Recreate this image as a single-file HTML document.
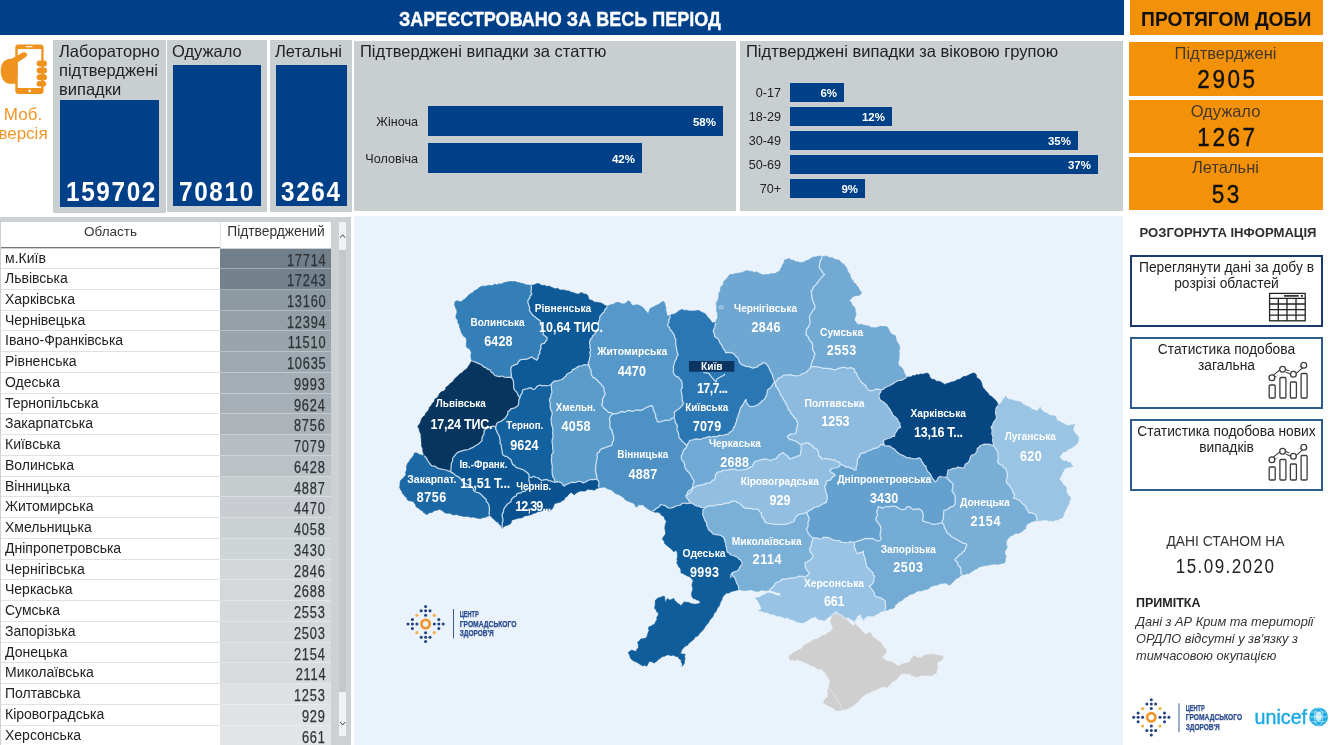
<!DOCTYPE html>
<html lang="uk">
<head>
<meta charset="utf-8">
<title>COVID-19 Україна</title>
<style>
*{margin:0;padding:0;box-sizing:border-box}
html,body{width:1332px;height:745px;overflow:hidden;background:#fff}
body{position:relative;font-family:"Liberation Sans",sans-serif;color:#222}
.abs{position:absolute}
.blue{background:#004089}
.gp{background:#c9ced1}
#hdr{left:0;top:0;width:1124px;height:34.5px;color:#fff;font-weight:bold;font-size:19.5px;line-height:35px}
#hdr span{position:absolute;left:398.5px;top:1.5px;-webkit-text-stroke:.35px #fff;white-space:nowrap;transform:scaleX(.925);transform-origin:left center}
#ohdr{left:1129.5px;top:0;width:193px;height:34.5px;background:#f39208;color:#111;font-weight:bold;font-size:19.5px;line-height:36px;text-align:center;white-space:nowrap}
#ohdr span{display:inline-block;transform:scaleX(.988);position:relative;top:1px}
.ptitle{position:absolute;font-size:16.5px;color:#222;white-space:nowrap;line-height:19px}
.bignum{position:absolute;color:#fff;font-weight:bold;font-size:28px;line-height:28px;white-space:nowrap;transform:scaleX(.87);transform-origin:left center;letter-spacing:1.85px}
.blab{position:absolute;font-size:12.6px;color:#222;text-align:right;white-space:nowrap;line-height:14px}
.bar{position:absolute;background:#004089;color:#fff;font-weight:bold;font-size:11.5px;text-align:right;padding-right:7px;white-space:nowrap}
.ocard{position:absolute;left:1128.5px;width:194px;background:#f39208;text-align:center}
.ocard .l{position:absolute;left:0;width:100%;top:1.5px;font-size:16.5px;line-height:18px;color:#44382a}
.ocard .n{position:absolute;left:0;width:100%;top:23px;font-size:26.5px;line-height:28px;color:#111;-webkit-text-stroke:.4px #111}
.ocard .n span{display:inline-block;transform:scaleX(.85);letter-spacing:3px;margin-right:-3px}
/* mobile */
#mobtxt{position:absolute;left:-5px;top:104.5px;width:56px;text-align:center;color:#f0962a;font-size:17px;line-height:19px;white-space:nowrap}
/* table */
#tbl{position:absolute;left:0;top:216.5px;width:351px;height:528.5px;background:#cdd1d4;overflow:hidden}
#tbl .th1{position:absolute;left:1px;top:5.5px;width:219px;height:25.5px;background:#fff;text-align:center;font-size:13.5px;line-height:19px;color:#333}
#tbl .th2{position:absolute;left:220px;top:5.5px;width:111px;height:25.5px;background:#fff;text-align:center;font-size:13.8px;line-height:19px;color:#333;border-left:1px solid #e4e4e4}
#tbl .thline{position:absolute;left:1px;top:30.5px;width:219px;height:1px;background:#777}
#tbl .tr{position:absolute;left:0;width:331px}
#tbl .c1{position:absolute;left:1px;top:0;width:219px;height:100%;background:#fff;border-bottom:1px solid #e2e2e2;font-size:14px;line-height:18px;padding-left:4px;color:#222;white-space:nowrap}
#tbl .c2{position:absolute;left:220px;top:0;width:111px;height:100%;border-bottom:1px solid rgba(255,255,255,.35);text-align:right;font-size:16px;line-height:24px;padding-right:6px;color:#2e3338;-webkit-text-stroke:.25px #2e3338}
#tbl .c2 span{display:inline-block;transform:scaleX(.8);transform-origin:right center;letter-spacing:1px;margin-right:-1px}
#tbl .sbtrack{position:absolute;left:339px;top:5.5px;width:7px;height:514px;background:#eff1f2}
#tbl .sbthumb{position:absolute;left:339px;top:33.5px;width:7px;height:441.5px;background:#c4c8cb}
/* map */
#map{position:absolute;left:354px;top:216px;width:769px;height:529px;background:#eaf3fb;overflow:hidden}
/* right */
#right{position:absolute;left:1124px;top:211px;width:208px;height:534px;background:#fff}
.rtitle{font-size:13.1px;font-weight:bold;color:#2e2e2e;line-height:16px;white-space:nowrap}
.rbox{left:6px;width:193px;height:72px;border:2px solid #2f5c8f;background:#fff}
.rbox .rt{position:absolute;left:0;top:3.4px;width:189px;text-align:center;font-size:13.8px;line-height:15.2px;color:#222;white-space:nowrap}

</style>
</head>
<body>
<div id="hdr" class="abs blue"><span>ЗАРЕЄСТРОВАНО ЗА ВЕСЬ ПЕРІОД</span></div>
<div id="ohdr" class="abs"><span>ПРОТЯГОМ ДОБИ</span></div>

<svg class="abs" style="left:0;top:40px" width="52" height="60" viewBox="0 40 52 60">
<g fill="#f0921e">
<rect x="15.3" y="44.4" width="28.3" height="49.5" rx="3.2"/>
<path d="M17.6 60.5 C15 58.5 9 58 5 60.5 C1.5 63 0.5 68 0.8 72 C1 78 4 83.5 10 83.8 L17.6 83.8 Z"/>
</g>
<rect x="17.7" y="49" width="23.6" height="39" fill="#fff"/>
<rect x="25.5" y="46.2" width="7" height="1" rx=".5" fill="#fff"/>
<circle cx="29.7" cy="90.9" r="1.3" fill="#fff"/>
<g fill="#f0921e">
<path d="M8 61 L22.5 52.6 C24.5 51.6 26.6 52.4 27 54 C27.4 55.6 26.5 56.8 25 57.6 L17.6 62.5 L17.6 75 L8 75 Z"/>
<rect x="36.6" y="60.6" width="10.4" height="6" rx="3"/>
<rect x="36.6" y="67.4" width="10.4" height="6" rx="3"/>
<rect x="36.6" y="74.2" width="10.4" height="6" rx="3"/>
<rect x="36.6" y="81" width="9.6" height="5.6" rx="2.8"/>
</g>
</svg>
<div id="mobtxt">Моб.<br>версія</div>

<div class="abs gp" style="left:53px;top:40px;width:112.5px;height:172.5px"></div>
<div class="abs gp" style="left:167.3px;top:40px;width:100px;height:171.6px"></div>
<div class="abs gp" style="left:270px;top:40px;width:82px;height:171.6px"></div>
<div class="ptitle" style="left:59px;top:41.5px">Лабораторно<br>підтверджені<br>випадки</div>
<div class="ptitle" style="left:172px;top:41.5px">Одужало</div>
<div class="ptitle" style="left:275px;top:41.5px">Летальні</div>
<div class="abs blue" style="left:60px;top:100px;width:99px;height:107px"></div>
<div class="abs blue" style="left:173px;top:65px;width:88px;height:141px"></div>
<div class="abs blue" style="left:276px;top:65px;width:71px;height:141px"></div>
<div class="bignum" style="left:66px;top:177.7px">159702</div>
<div class="bignum" style="left:179px;top:177.7px">70810</div>
<div class="bignum" style="left:281px;top:177.7px">3264</div>

<div class="abs gp" style="left:354px;top:41px;width:382px;height:170px"></div>
<div class="ptitle" style="left:360px;top:42px">Підтверджені випадки за статтю</div>
<div class="blab" style="left:358px;width:60px;top:115px">Жіноча</div>
<div class="blab" style="left:358px;width:60px;top:152px">Чоловіча</div>
<div class="bar" style="left:428px;top:106px;width:295px;height:30px;line-height:32px">58%</div>
<div class="bar" style="left:428px;top:143px;width:214px;height:30px;line-height:32px">42%</div>

<div class="abs gp" style="left:740px;top:41px;width:382.5px;height:169.5px"></div>
<div class="ptitle" style="left:746px;top:42px">Підтверджені випадки за віковою групою</div>
<div class="blab" style="left:741px;width:40px;top:86px">0-17</div>
<div class="blab" style="left:741px;width:40px;top:110px">18-29</div>
<div class="blab" style="left:741px;width:40px;top:134px">30-49</div>
<div class="blab" style="left:741px;width:40px;top:158px">50-69</div>
<div class="blab" style="left:741px;width:40px;top:182px">70+</div>
<div class="bar" style="left:790px;top:83px;width:54px;height:19px;line-height:21px">6%</div>
<div class="bar" style="left:790px;top:107px;width:102px;height:19px;line-height:21px">12%</div>
<div class="bar" style="left:790px;top:131px;width:288px;height:19px;line-height:21px">35%</div>
<div class="bar" style="left:790px;top:155px;width:308px;height:19px;line-height:21px">37%</div>
<div class="bar" style="left:790px;top:179px;width:75px;height:19px;line-height:21px">9%</div>

<div class="ocard" style="top:42px;height:54px"><div class="l">Підтверджені</div><div class="n"><span>2905</span></div></div>
<div class="ocard" style="top:100px;height:53px"><div class="l">Одужало</div><div class="n"><span>1267</span></div></div>
<div class="ocard" style="top:156.5px;height:53.5px"><div class="l">Летальні</div><div class="n"><span>53</span></div></div>
<div id="tbl">
<div class="th1">Область</div><div class="th2">Підтверджений</div><div class="thline"></div>
<div class="tr" style="top:32px;height:20px"><div class="c1">м.Київ</div><div class="c2" style="background:#707f8a"><span>17714</span></div></div>
<div class="tr" style="top:52px;height:21px"><div class="c1">Львівська</div><div class="c2" style="background:#73828d"><span>17243</span></div></div>
<div class="tr" style="top:73px;height:21px"><div class="c1">Харківська</div><div class="c2" style="background:#8e9aa2"><span>13160</span></div></div>
<div class="tr" style="top:94px;height:20px"><div class="c1">Чернівецька</div><div class="c2" style="background:#949fa6"><span>12394</span></div></div>
<div class="tr" style="top:114px;height:21px"><div class="c1">Івано-Франківська</div><div class="c2" style="background:#99a4ab"><span>11510</span></div></div>
<div class="tr" style="top:135px;height:21px"><div class="c1">Рівненська</div><div class="c2" style="background:#9fa9b0"><span>10635</span></div></div>
<div class="tr" style="top:156px;height:21px"><div class="c1">Одеська</div><div class="c2" style="background:#a4adb3"><span>9993</span></div></div>
<div class="tr" style="top:177px;height:20px"><div class="c1">Тернопільська</div><div class="c2" style="background:#a6afb5"><span>9624</span></div></div>
<div class="tr" style="top:197px;height:21px"><div class="c1">Закарпатська</div><div class="c2" style="background:#acb4ba"><span>8756</span></div></div>
<div class="tr" style="top:218px;height:21px"><div class="c1">Київська</div><div class="c2" style="background:#b7bec3"><span>7079</span></div></div>
<div class="tr" style="top:239px;height:21px"><div class="c1">Волинська</div><div class="c2" style="background:#bbc2c6"><span>6428</span></div></div>
<div class="tr" style="top:260px;height:20px"><div class="c1">Вінницька</div><div class="c2" style="background:#c6cbce"><span>4887</span></div></div>
<div class="tr" style="top:280px;height:21px"><div class="c1">Житомирська</div><div class="c2" style="background:#c9cdd1"><span>4470</span></div></div>
<div class="tr" style="top:301px;height:21px"><div class="c1">Хмельницька</div><div class="c2" style="background:#cbd0d3"><span>4058</span></div></div>
<div class="tr" style="top:322px;height:21px"><div class="c1">Дніпропетровська</div><div class="c2" style="background:#cfd4d6"><span>3430</span></div></div>
<div class="tr" style="top:343px;height:20px"><div class="c1">Чернігівська</div><div class="c2" style="background:#d3d7d9"><span>2846</span></div></div>
<div class="tr" style="top:363px;height:21px"><div class="c1">Черкаська</div><div class="c2" style="background:#d4d8da"><span>2688</span></div></div>
<div class="tr" style="top:384px;height:21px"><div class="c1">Сумська</div><div class="c2" style="background:#d5d9db"><span>2553</span></div></div>
<div class="tr" style="top:405px;height:21px"><div class="c1">Запорізька</div><div class="c2" style="background:#d6d9db"><span>2503</span></div></div>
<div class="tr" style="top:426px;height:20px"><div class="c1">Донецька</div><div class="c2" style="background:#d8dbdd"><span>2154</span></div></div>
<div class="tr" style="top:446px;height:21px"><div class="c1">Миколаївська</div><div class="c2" style="background:#d8dbdd"><span>2114</span></div></div>
<div class="tr" style="top:467px;height:21px"><div class="c1">Полтавська</div><div class="c2" style="background:#dee0e2"><span>1253</span></div></div>
<div class="tr" style="top:488px;height:21px"><div class="c1">Кіровоградська</div><div class="c2" style="background:#e0e2e4"><span>929</span></div></div>
<div class="tr" style="top:509px;height:20px"><div class="c1">Херсонська</div><div class="c2" style="background:#e2e4e5"><span>661</span></div></div>
<div class="sbtrack"></div><div class="sbthumb"></div><svg class="abs" style="left:339px;top:5.5px" width="7" height="514" viewBox="0 0 7 514" fill="none" stroke="#444" stroke-width="1"><path d="M1.2 15.8L3.7 12.8L6.2 15.8M1.2 500L3.7 503L6.2 500"/></svg>
</div>
<div id="map">
<svg width="769" height="529" viewBox="354 216 769 529">
<defs>
<g id="cgzlogo">
<circle r="4.2" fill="none" stroke="#f0962a" stroke-width="2.6"/>
<g fill="#22407f">
<circle cx="0" cy="-17.6" r="1.5"/><circle cx="0" cy="-13.2" r="1.5"/><circle cx="0" cy="-8.7" r="1.5"/><circle cx="-4.4" cy="-13.2" r="1.5"/><circle cx="4.4" cy="-13.2" r="1.5"/>
<circle cx="0" cy="17.6" r="1.5"/><circle cx="0" cy="13.2" r="1.5"/><circle cx="0" cy="8.7" r="1.5"/><circle cx="-4.4" cy="13.2" r="1.5"/><circle cx="4.4" cy="13.2" r="1.5"/>
<circle cy="0" cx="-17.6" r="1.5"/><circle cy="0" cx="-13.2" r="1.5"/><circle cy="0" cx="-8.7" r="1.5"/><circle cy="-4.4" cx="-13.2" r="1.5"/><circle cy="4.4" cx="-13.2" r="1.5"/>
<circle cy="0" cx="17.6" r="1.5"/><circle cy="0" cx="13.2" r="1.5"/><circle cy="0" cx="8.7" r="1.5"/><circle cy="-4.4" cx="13.2" r="1.5"/><circle cy="4.4" cx="13.2" r="1.5"/>
</g>
<g fill="#f0b04a"><circle cx="-8.7" cy="-8.7" r="1.6"/><circle cx="8.7" cy="-8.7" r="1.6"/><circle cx="-8.7" cy="8.7" r="1.6"/><circle cx="8.7" cy="8.7" r="1.6"/></g>
</g>
</defs>
<!--REGIONS-->
<g stroke-linejoin="round">
<path d="M832 614.5 834.7 612.9 837.2 612.9 839.6 613.7 840.9 615.4 842.6 616.6 844.4 617.7 845.7 619.6 847.8 620.7 849.2 622.5 851 624 852.5 625.8 854.2 625.2 855.7 624.2 857.1 626 858.9 627.4 860.6 629.3 862.1 631.4 864 632.7 865.3 634.6 867.8 633.5 870.2 632.2 871.7 634.5 872.6 637 874.8 637.9 876.6 639.4 877.9 641.2 880.1 641.8 881.4 643.5 882.8 645.3 883.6 647.6 885.5 649.1 886.3 652.3 885.1 654.1 883.1 655.2 882.2 657.2 883.2 658.7 884.7 659.6 886.6 661 888.8 661.6 891.1 662 893.6 662.9 895.9 664.4 897.2 665.7 899.1 666 901.4 664.4 904 663.6 906.3 663.3 908.4 662.4 910.4 661.2 911.3 659 912.5 657 914.4 655.5 915.9 656.5 916.9 658 919.3 657.4 921.7 658 923.1 656.1 924.9 654.7 927.1 654.8 929.2 654.8 931.3 653.9 933.4 654.5 935.8 654.5 937.8 655.5 939.8 655.5 941.7 656.1 943.4 657.2 942.5 659 941 660.4 939 661.6 937 662.8 937.1 665.3 937.8 667.6 937.1 669.4 936.4 671.3 936.2 673.3 934.1 674.2 932.1 675.5 929.7 675.7 927.1 675.3 924.3 675.5 921.7 674.9 919.8 676.3 917.4 676.6 915.2 677.3 914 675.7 911.7 675.6 910.4 674.1 908.3 673.7 906.1 674.1 904 673.3 901.2 673.9 899.1 675.7 897.8 678 895.9 679.7 894.5 681.1 892.5 681.5 891.1 682.9 890.2 684.8 888.3 686 887.1 687.7 885.2 686.8 883 686.9 880.7 687.3 878.8 688.6 876.6 689.4 874.6 690.6 872 690.9 870.2 692.6 867.7 693.1 865.6 694.2 863.7 695.8 861.8 697.1 860.3 698.8 858.9 700.6 857.6 702.4 855.7 703.3 854.1 704.7 852.1 706.4 849.8 707.5 847.6 708.7 845.8 709.4 843.7 709.1 842 710.3 839.8 710.4 837.7 710.7 835.5 710.3 833.9 708.5 831.9 707.4 829.9 706.3 827.6 705.6 825.7 703.9 823.5 703 824.3 700.6 825.9 698.2 828.3 696.6 827.7 694.5 828.2 692.3 827.5 690.2 828.6 688.1 829 685.8 829.9 683.7 830 681.4 829.4 679.3 828.3 677.3 826.8 676 826.4 674 825.1 672.5 823.4 670.9 821.9 669.2 819.8 669.1 817.8 669.2 816.2 667.7 814.3 666.6 812.2 666 809.9 665.2 808.1 663.6 805.8 662.8 803.6 662.3 801.8 661.1 799.6 660.7 797.7 659.6 795.4 660.6 792.8 659.5 790.5 660.4 789.3 658.5 788.9 656.4 790.9 654.7 792.9 653.1 794.8 651.9 796.9 651.1 798.6 649.5 800.9 649.1 802.8 647.3 804.2 645.1 806.5 644.4 808.4 642.9 810.6 641.9 812.3 640.4 814.3 639.2 816.9 639.5 818.6 637.8 820.7 637 822.5 635.5 824.9 635.2 826.7 633.8 828.8 632.1 831.5 631.4 832 629.3 833.1 627.4 832 624.9 830.7 622.5 830.4 620.4 831.4 618.5 832.1 616.6 832 614.5Z" fill="#cfcfcf" stroke="#cfcfcf" stroke-width=".6"/>
<path d="M997.9 405.5 999.4 404.5 1000.6 403.1 1002.2 401.7 1002.9 399.6 1004.7 398.3 1005.5 395.9 1006.6 397.6 1007.9 399.1 1010.3 399.5 1012.7 399.9 1014.7 400.9 1016.9 401.2 1019.1 401.5 1021.4 402.6 1023.2 404.5 1025.6 405.5 1027.9 406.6 1030.3 407.6 1032 409.6 1034.6 409.9 1036.9 411.2 1038.9 409.5 1040.1 407.2 1041.2 409.6 1043.3 411.2 1044.5 412.8 1046.8 412.9 1048.1 414.4 1050.1 415.5 1052.3 415.8 1054.6 416 1056.2 417.2 1056.4 419.4 1057.8 420.8 1060.4 421.7 1062.6 423.3 1064.8 424 1066.7 425.5 1069.1 425.7 1070.9 424.9 1073 425.1 1074.7 424.1 1073.8 426.5 1073.1 428.9 1073.8 431.6 1075.5 433.7 1077.3 435.5 1078.7 437.7 1078.2 439.6 1078.1 441.6 1077.1 443.4 1075.4 445.3 1073.1 446.6 1071.4 448 1069.3 448.7 1067.4 449.8 1066.2 451.6 1063.8 451.7 1062.2 453 1061 454.7 1059.9 456.2 1059.4 457.9 1061.1 458.8 1062.4 460.4 1064.2 461.1 1066.5 461.1 1068.5 462.4 1070.7 462.7 1071.2 464.4 1072.3 465.9 1073.1 466.1 1071.2 466.9 1069.1 466.9 1066.8 468 1064.2 468.5 1063.9 470.6 1062.6 472.3 1061.8 474.2 1061.2 476.1 1059.6 477.7 1059.4 479.8 1061.5 481.4 1062.6 483.8 1064 485.4 1065.8 486.6 1066.6 488.6 1066.2 490.6 1066.6 492.5 1067.4 494.3 1069.4 496 1070.7 498.3 1069.7 500.6 1069.1 503.1 1067.9 505.6 1066.6 508 1065.5 510.4 1064.2 512.8 1063.7 515.3 1062.6 517.6 1060 518.4 1057.8 520 1055.6 519.8 1053.5 521.1 1051.3 520.8 1049.1 521.1 1047.1 519.9 1044.9 520 1042.4 520.1 1040.1 520.8 1038.3 520.7 1036.5 520.5 1036.5 520.5 1036.9 519.2 1036.6 516.6 1035.2 514.4 1033.2 513.5 1031.1 512.7 1028.8 512.8 1028.2 511.1 1027.2 509.6 1026 508 1025.5 506 1024 504.7 1022 503.5 1020.8 501.4 1019.1 499.9 1017.2 499.6 1015.5 498.4 1013.5 498.3 1014.4 496 1014.3 493.5 1012.7 492.2 1012.6 489.9 1011.1 488.6 1010 486.1 1007.9 484.3 1006.3 482.2 1006.4 479.8 1007.1 477.4 1007.4 475.2 1007.3 473 1006.3 470.9 1005.8 468.7 1003.5 467.5 1003 465.3 1001.4 465.1 998.9 463.6 997.4 461.1 998.3 458.8 998.2 456.3 998 454 997.6 451.9 996.6 449.8 995.2 447.8 993.9 445.8 993.9 445.8 993.1 443 992.6 440.2 993 438 992.7 435.8 991.8 433.7 992.2 431.5 992 429.3 991 427.3 992.6 425.1 993.4 422.5 994.6 420.9 995.9 419.5 996.6 417.6 996.3 415.5 995.5 413.4 995.8 411.2 995.9 409.1 996.7 407.2 997.9 405.5Z" fill="#99c4e4" stroke="#99c4e4" stroke-width=".7"/>
<path d="M813 538.1 815.2 537.9 817.3 538.1 819.4 538.9 821.7 539 823.5 537.3 825.8 537.3 828.2 537.6 830.3 538.4 832.3 539.7 834.6 540.4 837.1 540.5 839.6 540.7 841.6 542.4 844.1 542.5 846.3 542.5 848.4 542.4 850.5 541.7 853.7 542.5 853.7 542.5 854.5 544.6 854.2 547 855.3 549 856 551.6 857.7 553.8 859.5 552.7 861.6 552.4 863.4 551.4 863.4 553.9 864.2 556.3 865 558.6 865.4 560.6 865.6 562.7 866.5 564.6 866.6 566.7 868.3 568.2 869.9 569.8 871.4 571.5 873 572.8 873.1 575.1 874.7 576.4 873.8 578.4 874 580.8 873 582.8 871.4 584.9 869 586 870.5 587.5 871.6 589.2 873 590.8 874.3 593.1 874.7 595.7 876.7 596.8 879 597.3 881.1 598.1 883 599.4 885.1 600.5 885.5 602.6 885.2 604.8 885.9 606.9 885.1 610.2 885.1 610.2 882.7 611 880.3 611.6 878.7 613.6 876.3 614.2 874.8 615.6 873 616.6 873 616.6 870.6 616.9 868.2 616.6 866.2 617.8 864.7 619.5 863.4 621.4 862.4 619.2 860.7 617.4 860.2 615 857.7 616.6 857 618.8 855.4 620.6 855.3 623 853.9 621.7 852.3 620.6 850.5 619.8 848.3 618.4 845.7 618.2 843.7 617.8 842.4 616.2 840.8 615 838.8 614.5 837.7 612.7 836 611.8 834.4 613.7 832 614.5 832 614.5 829.6 616.6 827.5 617.4 826.2 619.1 824.7 620.6 822.6 620 820.5 619.5 818.3 619.8 817 617.9 815.1 616.6 812.9 617.5 810.5 618.2 808.6 619.8 806.5 620.9 804.5 622.2 802.2 623 800.2 622.5 798.1 622 796.1 621.6 794.2 620.6 791.7 619.6 789.1 618.8 787.1 617.6 784.6 618.2 782.6 617.2 780.7 616.2 778.6 616 776.4 615.9 774.6 614.7 772.2 614.2 769.6 613.9 767.5 612.2 764.9 612.3 762.8 611.6 760.7 610.9 758.5 610.7 760.5 610.1 761.7 608.3 760.8 606.7 760.1 605.1 759 603.2 758.2 601.2 756.9 599.4 755.2 597.8 757.7 597.7 760.1 597 762.4 595.6 764.9 594.6 767.1 593.1 769.7 593 772.2 593.6 774.6 594.6 776.4 595.5 778.3 595.8 780.2 596.2 781 593 778.8 592.7 776.6 592.6 774.6 591.4 772 591 769.7 589.8 769.7 589.8 771.3 588.2 773.5 586.6 774.6 584.2 776.4 582.4 779.1 581.9 781 580.1 783 578.9 785.4 579.4 787.4 578.5 789.5 578 791.8 578.4 793.9 577.7 796.1 577.8 797.9 576.3 800 576.1 802.6 576.3 804.9 577.5 806.6 576 808.3 574.5 809.7 572.7 807.9 571.3 806.5 569.5 805.5 567.5 805.3 565.2 804.9 563 806.8 562 808.6 560.9 810.5 559.8 812.4 557.7 813 555 811.9 553.4 810.2 552.2 809.7 550.2 809.9 547.9 811.4 546 811.3 543.7 811.9 541.9 812.7 540 813 538.1Z" fill="#98c3e4" stroke="#98c3e4" stroke-width=".7"/>
<path d="M685.8 495.8 687.2 495.1 689.5 493.3 691.3 491.1 692.5 489.1 694 487.4 696.1 486.3 698.1 485.3 700.4 485.4 702.5 484.7 704.7 484.1 706.7 483.1 709 483 711 482.1 712.4 480.2 714.6 479.8 715.4 477.5 715.4 475 716.6 473 718.6 471.8 720.9 471.8 722.8 470.2 725.1 470.2 727.7 469.8 730.4 469.3 733.1 469.4 735.2 469 737.1 470.4 739.2 470.2 741.2 470.2 743.3 469.5 745.6 469.6 747.6 468.6 750.1 467.4 752.5 466.1 753.4 464.1 754.1 462.1 756.5 461.2 758.9 460.5 761 459.7 763.2 459.7 765.3 458.9 767.8 459.5 770.2 460.5 772 459.8 773.8 459 775.8 458.9 777.5 457 779 454.9 781 453.7 783 452.5 784.9 454.2 787.1 455.7 788.4 457.2 789.5 458.9 792 458.4 794.3 457.3 796.2 456.8 797.9 455.9 799.9 455.7 800.7 453.3 800.8 450.8 801.4 448.7 801 446.5 801.6 444.4 801.6 444.4 803.6 443.7 805.6 442.8 808.2 443.1 810.4 444.4 812.2 445.5 813.3 447.4 815.2 448.4 816.9 449.1 817.7 450.8 818.7 453.2 818.5 455.7 820.5 456.9 821.7 458.9 823.8 458.7 826 458.3 828.1 458.9 830.3 459.2 832.3 460.1 834.6 459.7 836.7 461.6 839.4 462.1 840.5 464.3 840.5 464.3 839.4 466.2 837.7 467.5 834.9 468 832.1 468.3 829.7 470.7 831.3 472.6 833.7 473.6 835.3 475.5 832.9 476.7 831.3 478.8 830 480.4 827.7 480.3 826.4 482 826.2 484 824.7 485.6 824.8 487.6 825.5 489.6 825.8 491.7 826.4 493.7 827.2 495.7 827.3 497.9 826.8 500 826.4 502.1 824.1 503.5 821.6 504.5 820 505.7 818.3 506.6 816.2 506.7 814.4 507.5 812.7 508.4 811.3 509.9 808.9 510.5 807.3 512.3 807.3 512.3 804.9 513.1 802.7 513.5 800.6 514.2 798.5 514.7 796.6 516.1 795.2 518 794.3 520 793.6 522 791 522.2 788.8 523.6 786.7 523.9 784.6 524.5 782.4 524.4 780.2 524.6 778.1 524.4 775.9 524.4 773.5 524 771.1 523.6 768.9 523.5 766.7 522.9 764.7 522 764.4 519.8 763 518 761.5 515.8 761.4 513.1 759.4 511.4 758.2 509.1 755.5 509.2 752.8 509.1 750.2 508.3 748 508.1 745.8 508.4 743.7 507.5 742.2 505.8 740.5 504.3 739.1 502.9 737 502.6 735.7 501.1 733.2 501.1 730.8 501.9 728.8 503.1 726.5 502.9 724.4 503.5 722.3 504.3 720.2 504.7 718 504.3 715.9 505 713.8 505.8 711.5 505.9 708.6 506.1 705.9 507 705.9 507 703.5 507.3 701.1 507.5 699 506.4 696.8 505.9 694.6 505.1 693 503.7 691 503 691 503 689.3 501.8 688.6 499.8 686.8 498.1 685.8 495.8Z" fill="#92bfe1" stroke="#92bfe1" stroke-width=".7"/>
<path d="M774.5 382.3 776.3 381.2 777.5 379.5 778.8 377.9 780.7 377.6 782 376.3 783.9 375.2 786 375.1 788 374.9 790.1 374.7 792.5 375.4 794.9 375.6 797.2 376 799.7 375.5 802 374 804.6 373 806.5 372.2 807.8 370.6 809.6 368.9 810.9 366.7 810.9 366.7 813.5 366.6 816.1 366.7 818.5 367.1 820.9 367.5 823 368.3 825.2 368.3 827.4 368.3 829.7 368.3 831.7 369.1 833.8 369.9 836.3 369.3 838.6 368.3 840.7 367.8 842.9 367.3 845.1 367.5 847.7 368.4 850.5 367.7 853.1 368.3 854.6 369.6 854.7 371.9 856.4 373.1 857.1 375.5 858.4 377.5 859.6 379.6 860.9 381.5 862.4 383.2 864.4 384.4 866 386.2 866.8 388.4 868.5 390.1 870.8 390.8 873.3 390.3 875.7 389.2 878.5 389.4 881.3 389.6 881.3 389.6 880.9 391.8 879.5 393.6 878.9 395.7 879.5 398.2 880.5 400.5 882.3 401.2 884 402.2 885.3 403.7 887 405 888 407 889.4 408.6 890.5 410.7 891.9 412.7 892.6 415 894.6 416.6 896.6 418.2 897.8 419.7 898.2 421.7 899.8 423 899.9 425.1 900.6 427.1 898.1 428.6 896.6 431.1 895 433.3 894.2 435.9 894.9 436.1 892.3 436.4 890.1 438 887.6 438.5 885.7 439.5 883.6 440.1 883.6 442.8 884.4 445.4 884.4 445.4 881.2 444.2 879.8 445.8 878.3 447.2 876.4 448.2 873.7 448.4 871.5 449.8 869.1 450.5 866.7 451.4 864.8 452.7 862.5 453.2 860.3 453.8 859.6 456.5 857.8 458.6 857.2 460.7 857.3 462.9 857 465.1 856 467.4 856.2 469.9 854.1 470.1 852.6 468.4 850.6 468.3 848.7 466.9 846.2 467.1 844.2 465.9 842.5 464.8 840.5 464.3 840.5 464.3 839.4 462.1 836.7 461.6 834.6 459.7 832.3 460.1 830.3 459.2 828.1 458.9 826 458.3 823.8 458.7 821.7 458.9 820.5 456.9 818.5 455.7 818.7 453.2 817.7 450.8 816.9 449.1 815.2 448.4 813.3 447.4 812.2 445.5 810.4 444.4 808.2 443.1 805.6 442.8 803.6 443.7 801.6 444.4 801.6 444.4 799.1 443.6 797.6 442.2 795.9 441.2 793.8 440.6 791.8 439.6 789.5 439.6 788.3 438 787.1 436.4 789.1 435.1 791.1 433.9 793.6 434 795.9 433.1 796.5 430.7 796.7 428.3 797.2 425.8 798.3 423.5 796.7 421.3 795.9 418.6 793.9 417.4 792.9 415.2 791.1 413.8 790.4 411.5 788.3 409.8 787.9 407.4 786.9 405.2 785.5 403.2 784.7 400.9 783.3 399.5 782.7 397.5 781.4 396.1 780.2 394 779.5 391.7 778.2 389.7 777.3 387.8 775.7 386.3 775.6 384.1 774.5 382.3 774.5 382.3 774.5 382.3Z" fill="#8cbbdf" stroke="#8cbbdf" stroke-width=".7"/>
<path d="M705.9 507 708.6 506.1 711.5 505.9 713.8 505.8 715.9 505 718 504.3 720.2 504.7 722.3 504.3 724.4 503.5 726.5 502.9 728.8 503.1 730.8 501.9 733.2 501.1 735.7 501.1 737 502.6 739.1 502.9 740.5 504.3 742.2 505.8 743.7 507.5 745.8 508.4 748 508.1 750.2 508.3 752.8 509.1 755.5 509.2 758.2 509.1 759.4 511.4 761.4 513.1 761.5 515.8 763 518 764.4 519.8 764.7 522 766.7 522.9 768.9 523.5 771.1 523.6 773.5 524 775.9 524.4 778.1 524.4 780.2 524.6 782.4 524.4 784.6 524.5 786.7 523.9 788.8 523.6 791 522.2 793.6 522 794.3 520 795.2 518 796.6 516.1 798.5 514.7 800.6 514.2 802.7 513.5 804.9 513.1 807.3 512.3 807.3 512.3 807.2 514.4 808.3 516.1 808.9 518 809 520.2 807.9 522.2 808.1 524.4 807.9 527 806.5 529.2 807.6 531.7 808.9 534.1 810.8 536.3 813 538.1 813 538.1 812.7 540 811.9 541.9 811.3 543.7 811.4 546 809.9 547.9 809.7 550.2 810.2 552.2 811.9 553.4 813 555 812.4 557.7 810.5 559.8 808.6 560.9 806.8 562 804.9 563 805.3 565.2 805.5 567.5 806.5 569.5 807.9 571.3 809.7 572.7 808.3 574.5 806.6 576 804.9 577.5 802.6 576.3 800 576.1 797.9 576.3 796.1 577.8 793.9 577.7 791.8 578.4 789.5 578 787.4 578.5 785.4 579.4 783 578.9 781 580.1 779.1 581.9 776.4 582.4 774.6 584.2 773.5 586.6 771.3 588.2 769.7 589.8 769.7 589.8 767.8 590.6 765.7 590.6 763.6 590.5 761.7 589.8 759.5 591.1 756.9 591.4 753.6 590.6 751.5 590 749.4 589.9 747.2 590.3 745.1 590.5 743 590.3 740.9 590 738.8 589.5 738.8 589.5 738.6 587.6 738.3 585.8 736.9 583.5 735.9 580.9 735.3 579 734.4 577.3 732.7 576.1 732.4 572.7 730.9 574.9 730.8 577.5 731 574.9 732.5 572.7 734.6 571.6 737 571.1 738.9 569.5 739.5 567.6 740.5 565.9 742.1 564.7 741.9 562 740.5 559.8 738.7 559 737.6 557.2 735.7 556.6 733.4 555.3 730.8 555 729.5 553.3 727.6 552.3 726.8 550.2 726.7 548 725.8 545.9 726 543.7 724.8 541.4 724.4 538.9 723.2 536.9 721.2 535.7 719.3 534.9 717.2 534.8 715.2 534.3 713.1 534.1 711.7 532.3 710 530.7 708.3 529.2 707.8 527.1 706.6 525.1 706.7 522.8 705.1 520.9 704.3 518.7 703.5 516.4 702.5 514.3 703.1 512.1 702.7 509.9 704.3 508.5 705.9 507Z" fill="#7ab0d7" stroke="#7ab0d7" stroke-width=".7"/>
<path d="M947.5 478.3 947 476.2 947.3 474.1 947.8 472 948 469.9 950 470 951.7 468.9 953.6 468.3 955.8 468.3 957.9 467.1 960.1 467.5 961.9 467.8 963.6 468.3 964.7 466.4 965.2 464.3 967.5 463.1 969.2 461.1 970 458.7 970.8 456.3 972.1 454.8 974.5 454.7 975.7 453 977.1 450.8 977.3 448.2 979.1 447.4 980.2 445.6 982.1 445 984.2 444.2 986.4 444.4 988.6 444.2 991.3 444.8 993.9 445.8 993.9 445.8 995.2 447.8 996.6 449.8 997.6 451.9 998 454 998.2 456.3 998.3 458.8 997.4 461.1 998.9 463.6 1001.4 465.1 1003 465.3 1003.5 467.5 1005.8 468.7 1006.3 470.9 1007.3 473 1007.4 475.2 1007.1 477.4 1006.4 479.8 1006.3 482.2 1007.9 484.3 1010 486.1 1011.1 488.6 1012.6 489.9 1012.7 492.2 1014.3 493.5 1014.4 496 1013.5 498.3 1015.5 498.4 1017.2 499.6 1019.1 499.9 1020.8 501.4 1022 503.5 1024 504.7 1025.5 506 1026 508 1027.2 509.6 1028.2 511.1 1028.8 512.8 1031.1 512.7 1033.2 513.5 1035.2 514.4 1036.6 516.6 1036.9 519.2 1036.5 520.5 1036.5 520.5 1034.2 521 1032 521.6 1029.6 522.9 1027.2 524.1 1025.9 526.3 1025.6 528.9 1023.7 529.5 1022.5 531.3 1020.8 532.1 1018.8 533.2 1016.5 533.2 1014.3 533.7 1013.1 535.3 1011 535.6 1009.5 536.9 1008 538.2 1007.1 540 1006.3 541.8 1006.2 544.3 1007.1 546.6 1006.6 548.8 1005.1 550.7 1004.7 553 1005.2 554.8 1006.3 556.3 1005.4 558.3 1005.3 560.6 1004.7 562.7 1002.7 563.3 1000.7 563.7 998.7 564.3 996.6 564.3 993.9 564 991.2 564.6 988.6 565.1 986.6 565.4 984.5 565.4 982.6 566.3 980.5 565.9 981.1 566.2 978.9 567.2 977.1 568.8 974.7 569.4 973.1 570.9 971 571.7 969.8 573.5 967.3 573.6 965 574.3 961.8 574.8 961.8 574.8 960.7 572.2 961 569.4 960.4 567.5 959 566 957.7 564.6 958 564.3 957.4 562.4 955.9 561 954.7 559.5 956.4 557.9 958.1 556.5 959.6 554.7 961.5 554 962.4 552 964.4 551.4 965 549.2 965.9 547.1 966.8 545 965.3 543.3 962.7 543.4 961.2 541.8 958.9 541 957 539.4 954.7 538.6 953 537.5 951.3 536.5 950 534.8 948.3 533.7 946.8 532.4 946.2 530.5 945.1 528.9 944.2 526.9 943.9 524.7 942.4 523 942.4 523 942.2 520.8 943.6 518.8 943.2 516.6 943.6 514.5 943.7 512.3 944 510.2 946.6 510.1 948.8 508.6 950.3 506.9 952.7 506.6 954.4 505.3 955.2 502.7 955.2 500 955.2 497.3 954.7 494.8 953.3 492.9 952 490.8 952.6 488.4 953.1 486.1 952.8 483.6 951 481.9 949 480.3 947.5 478.3Z" fill="#79afd6" stroke="#79afd6" stroke-width=".7"/>
<path d="M853.7 542.5 854 542.3 856.2 541.7 858.3 540.9 860.5 540.3 862.8 539.4 865.2 538.6 867.7 538.3 869.9 538.7 872.2 538.4 874.2 539.5 876.8 540.8 879.8 540.7 881.4 538.3 880.1 536.1 880.2 533.5 880.7 531.1 881 528.6 880.3 526.1 879 523.8 877.7 522.4 876.5 520.8 875.8 519 876.6 517 877.5 515 876.6 511.7 877.9 509.3 878.2 506.5 880.4 507.1 882.2 508.5 884.4 507 887 506.5 889.2 506.8 891.3 506.1 893.5 506.1 896.2 506.5 898.3 508.1 900.6 509.3 903.1 509.7 905.4 509.1 906.8 506.9 909.2 506.5 911.2 508.3 913.6 509.7 916.4 509.2 919.2 508.9 921 510.1 922.5 511.7 923 514.1 923.3 516.6 922.7 518.8 922.5 521 924.9 521.7 927.3 522.6 929.8 523 932.1 524.2 934.8 524.4 937.4 523.9 940 523 942.4 523 942.4 523 943.9 524.7 944.2 526.9 945.1 528.9 946.2 530.5 946.8 532.4 948.3 533.7 950 534.8 951.3 536.5 953 537.5 954.7 538.6 957 539.4 958.9 541 961.2 541.8 962.7 543.4 965.3 543.3 966.8 545 965.9 547.1 965 549.2 964.4 551.4 962.4 552 961.5 554 959.6 554.7 958.1 556.5 956.4 557.9 954.7 559.5 955.9 561 957.4 562.4 958 564.3 957.7 564.6 959 566 960.4 567.5 961 569.4 960.7 572.2 961.8 574.8 961.8 574.8 960.3 576.1 958.8 577.5 956.9 578.3 954.9 579.5 953.7 581.5 951.8 582.8 950.5 584.7 948.2 584.7 946.4 583.1 944.1 583.1 940.7 583.6 938.7 584.3 936.8 585.2 934.6 585.3 932.6 586 930.6 586.5 929.4 588.2 927.8 589.2 925.7 589.4 923.7 590 921.8 590.8 919.7 590.8 917.5 591.1 915.6 592.2 913.9 593.7 911.7 594.1 909.4 594.8 907.7 596.6 905.3 597.2 903.6 598.9 901.6 600.7 898.9 601.6 897.2 603.7 895.1 604.8 894.5 607.4 892.4 608.6 889.9 608.7 887.6 610.1 885.1 610.2 885.1 610.2 885.9 606.9 885.2 604.8 885.5 602.6 885.1 600.5 883 599.4 881.1 598.1 879 597.3 876.7 596.8 874.7 595.7 874.3 593.1 873 590.8 871.6 589.2 870.5 587.5 869 586 871.4 584.9 873 582.8 874 580.8 873.8 578.4 874.7 576.4 873.1 575.1 873 572.8 871.4 571.5 869.9 569.8 868.3 568.2 866.6 566.7 866.5 564.6 865.6 562.7 865.4 560.6 865 558.6 864.2 556.3 863.4 553.9 863.4 551.4 861.6 552.4 859.5 552.7 857.7 553.8 856 551.6 855.3 549 854.2 547 854.5 544.6 853.7 542.5Z" fill="#73abd4" stroke="#73abd4" stroke-width=".7"/>
<path d="M822.2 256.9 824.2 256.2 826.3 256.1 828.3 257.1 830.4 257.8 832.7 257.7 834.6 259.2 836.8 259.8 839.1 260.1 840.5 261.7 842 263.3 844 264.2 845.2 266 846.5 267.7 847.2 269.8 848.3 272.2 850 274.3 850.4 277 851.3 279 853.1 280.5 853.6 282.7 855.7 283.8 856.8 285.9 858.5 287.5 859.2 289.3 860.1 291.1 861.7 292.3 860.6 294.4 858.5 295.5 856.2 295.7 854 296.1 852 297.2 850.8 299.2 848.8 300.4 850.9 302 852 304.4 852.9 306.1 854.6 307.3 855.2 309.2 855.3 311.4 855.9 313.5 856 315.7 854.6 317.9 854.4 320.5 855.9 321.9 856.9 323.7 858.8 324.8 861 324.1 862.9 324.9 864.9 325.3 866.9 326 869.1 325.9 870.9 327.4 873 327.7 875.1 327.7 877.1 327.6 879.1 326.8 881 326.1 883.1 326.6 885.3 326.4 887.4 326.9 888.4 329.1 889.6 331.2 890.7 333.4 893 334.8 895.5 335.8 895.8 338.1 896.4 340.4 897.4 342.5 898.8 344.4 899.6 346.6 899.8 349 898.9 351.6 899.4 354.3 899 357 899.1 359.2 898.4 361.3 898.2 363.5 899 365.5 900.6 367 902.2 368.3 903.6 370.3 904.1 372.7 905.5 374.7 906.3 378 906.3 378 903.7 378.9 901.4 380.4 898.9 380.4 896.6 381.2 895 382.2 893.4 383.4 891.8 384.4 889.4 385.7 886.9 386.8 884.9 387.5 883.5 389.3 881.3 389.6 881.3 389.6 878.5 389.4 875.7 389.2 873.3 390.3 870.8 390.8 868.5 390.1 866.8 388.4 866 386.2 864.4 384.4 862.4 383.2 860.9 381.5 859.6 379.6 858.4 377.5 857.1 375.5 856.4 373.1 854.7 371.9 854.6 369.6 853.1 368.3 850.5 367.7 847.7 368.4 845.1 367.5 842.9 367.3 840.7 367.8 838.6 368.3 836.3 369.3 833.8 369.9 831.7 369.1 829.7 368.3 827.4 368.3 825.2 368.3 823 368.3 820.9 367.5 818.5 367.1 816.1 366.7 813.5 366.6 810.9 366.7 810.9 366.7 811.2 364.5 812 362.3 812.6 360.2 813.8 358.2 814.2 355.9 815 353.7 813.4 351.1 812.5 349 812.6 346.9 812.6 344.7 812 342.7 810.6 341.3 809.4 339.8 808.6 338 807.8 336.2 806.1 335 806.2 332.8 806.3 330.7 806.9 328.6 808.6 326.8 809.4 324.4 810.2 322.1 809.6 319.7 809.4 317.3 810.3 314.7 811.8 312.5 812.5 310.6 814.2 309.4 815 307.6 814.8 305 813.4 302.8 812.9 300.7 812 298.6 811.8 296.4 811.8 293.9 811 291.5 812.8 289.4 813.4 286.7 815.4 285.5 816.6 283.5 818.1 282 819.1 280.1 820.6 278.6 822.5 276.4 824.7 274.6 823 273.4 822.2 271.4 820.4 269.5 819 267.4 819.6 265 819.8 262.5 820.4 260.6 821.5 258.8 822.2 256.9Z" fill="#72aad4" stroke="#72aad4" stroke-width=".7"/>
<path d="M687 445.8 687.7 443.9 688.9 442.3 689.7 440.4 691.9 440.2 694 439.5 696.1 438.8 698.5 439.1 700.9 439.6 702.8 438.2 705.2 437.9 707.4 437.2 709.5 436.7 711.7 437.3 713.8 436.4 715.9 436.9 717.9 436.1 719.8 435.3 721.9 435.5 724.1 435.2 726.2 434.5 728.3 433.9 729.7 432.4 731.5 431.3 733.1 429.9 733.5 427.6 735.1 425.8 735.5 423.5 736.6 421.5 736.6 419 738 417 738.1 414.8 739.3 412.8 739.6 410.6 740.5 408.1 742 405.8 743.5 403.9 744.4 401.7 746 399.3 746.2 401.9 747.6 404.2 748.9 405.8 750.8 406.6 753.3 406.4 755.7 405.8 757.4 404.9 759 403.7 760.5 402.5 762.3 400.7 764.5 399.3 765.7 396.9 766.9 394.5 767.1 392.1 767.7 389.7 770 388.3 771.8 386.4 772.8 384.1 774.5 382.3 774.5 382.3 775.6 384.1 775.7 386.3 777.3 387.8 778.2 389.7 779.5 391.7 780.2 394 781.4 396.1 782.7 397.5 783.3 399.5 784.7 400.9 785.5 403.2 786.9 405.2 787.9 407.4 788.3 409.8 790.4 411.5 791.1 413.8 792.9 415.2 793.9 417.4 795.9 418.6 796.7 421.3 798.3 423.5 797.2 425.8 796.7 428.3 796.5 430.7 795.9 433.1 793.6 434 791.1 433.9 789.1 435.1 787.1 436.4 788.3 438 789.5 439.6 791.8 439.6 793.8 440.6 795.9 441.2 797.6 442.2 799.1 443.6 801.6 444.4 801.6 444.4 801 446.5 801.4 448.7 800.8 450.8 800.7 453.3 799.9 455.7 797.9 455.9 796.2 456.8 794.3 457.3 792 458.4 789.5 458.9 788.4 457.2 787.1 455.7 784.9 454.2 783 452.5 781 453.7 779 454.9 777.5 457 775.8 458.9 773.8 459 772 459.8 770.2 460.5 767.8 459.5 765.3 458.9 763.2 459.7 761 459.7 758.9 460.5 756.5 461.2 754.1 462.1 753.4 464.1 752.5 466.1 750.1 467.4 747.6 468.6 745.6 469.6 743.3 469.5 741.2 470.2 739.2 470.2 737.1 470.4 735.2 469 733.1 469.4 730.4 469.3 727.7 469.8 725.1 470.2 722.8 470.2 720.9 471.8 718.6 471.8 716.6 473 715.4 475 715.4 477.5 714.6 479.8 712.4 480.2 711 482.1 709 483 706.7 483.1 704.7 484.1 702.5 484.7 700.4 485.4 698.1 485.3 696.1 486.3 694 487.4 692.5 489.1 691.3 491.1 689.5 493.3 687.2 495.1 685.8 495.8 685.8 495.8 687.1 494 687.7 491.8 689.4 490.2 691.5 489 692.6 486.9 693 484.4 694.2 482.1 693.4 479.8 692 477.8 691 475.7 690 473.8 688.6 472.2 687 470.8 685.7 468.8 684.8 466.8 684.6 464.4 683.8 462.1 682.1 460.3 681.3 458 681.4 455.7 682.7 453.7 683 451.5 684 449.4 686.1 448 687 445.8Z" fill="#70a9d3" stroke="#70a9d3" stroke-width=".7"/>
<path d="M715.7 322.8 716.2 320.2 717.6 317.8 717.6 315.1 717.5 312.9 716.5 310.8 716.8 308.6 716.7 306.1 716 303.8 717.2 301.4 718.4 299 718.8 296.9 718.7 294.6 719.2 292.5 720.5 290.6 720.3 288 721.6 286.1 723.2 284.5 723.5 282.1 724.8 280.3 726.8 278.7 728.2 276.6 729.7 274.6 732.2 274.6 734.5 273.8 736.9 273.5 739.3 273 741.9 272.8 744.2 271.6 746.6 270.6 749.4 271.2 752.2 271.4 754 272.6 756.5 271.9 758.4 272.8 760.3 273.8 762.3 274.8 764.5 274.7 766.7 274.6 768.9 274.5 770.9 273.7 773.1 273.8 775.5 273.5 777.4 272.1 779.6 271.4 780.6 268.9 782 266.6 782.7 264.4 784.1 262.5 784.4 260.1 786.8 259.4 789.2 258.5 791.1 260.1 793.7 260.2 795.7 261.7 797.9 261.8 799.9 262.6 802.1 262.5 804.3 261.9 806.3 260.6 808.6 260.1 810 258.7 811.8 258 813.4 256.9 815.9 257 818.2 256.1 820.3 256.2 822.2 256.9 822.2 256.9 821.5 258.8 820.4 260.6 819.8 262.5 819.6 265 819 267.4 820.4 269.5 822.2 271.4 823 273.4 824.7 274.6 822.5 276.4 820.6 278.6 819.1 280.1 818.1 282 816.6 283.5 815.4 285.5 813.4 286.7 812.8 289.4 811 291.5 811.8 293.9 811.8 296.4 812 298.6 812.9 300.7 813.4 302.8 814.8 305 815 307.6 814.2 309.4 812.5 310.6 811.8 312.5 810.3 314.7 809.4 317.3 809.6 319.7 810.2 322.1 809.4 324.4 808.6 326.8 806.9 328.6 806.3 330.7 806.2 332.8 806.1 335 807.8 336.2 808.6 338 809.4 339.8 810.6 341.3 812 342.7 812.6 344.7 812.6 346.9 812.5 349 813.4 351.1 815 353.7 814.2 355.9 813.8 358.2 812.6 360.2 812 362.3 811.2 364.5 810.9 366.7 810.9 366.7 809.6 368.9 807.8 370.6 806.5 372.2 804.6 373 802 374 799.7 375.5 797.2 376 794.9 375.6 792.5 375.4 790.1 374.7 788 374.9 786 375.1 783.9 375.2 782 376.3 780.7 377.6 778.8 377.9 777.5 379.5 776.3 381.2 774.5 382.3 774.5 382.3 774 379.7 772.9 377.3 772.4 374.7 771.1 372.6 770.1 370.4 769.1 368.2 768.3 366.4 767 365 765.9 363.4 762.7 362.6 761.5 364.4 759.1 364.8 757.9 366.6 755.4 367.3 753 368.2 750.9 367.4 748.9 366.4 746.6 366.6 744.4 365.7 742.1 364.8 740.2 363.4 739.2 361.6 738.6 359.6 737.7 357.7 735.5 355.9 733.7 353.7 731.1 352.7 728.4 352.4 725.7 352.9 725.1 350.8 723.6 349.1 722.5 347.3 721.7 345 720 343.1 719.2 340.8 718.1 338.7 716 337.6 714.4 336 714.6 333.8 713.3 331.8 713.6 329.6 714.9 327.5 715.2 325.1 715.7 322.8Z" fill="#6da7d2" stroke="#6da7d2" stroke-width=".7"/>
<path d="M884.4 445.4 886.5 446.2 888.7 445.9 890.8 446.6 892.3 448.1 894.3 449 895.7 450.6 897.2 452.1 898.8 453.4 900.5 454.6 902.8 455.4 904.9 456.5 906.9 457.8 909.1 457.5 911.2 458.3 913.4 458.6 916.3 458.9 919 457.8 920.9 459 921.5 461.2 923 462.7 923.7 464.8 925.8 466.1 926.3 468.3 927 470.2 927.9 471.8 929.5 473.1 930.8 474.9 931.6 476.9 932.7 478.8 934.1 480.3 935.1 482 937 480.4 938 478 939.9 476.4 942.4 477 945.1 477.1 947.5 478.3 947.5 478.3 949 480.3 951 481.9 952.8 483.6 953.1 486.1 952.6 488.4 952 490.8 953.3 492.9 954.7 494.8 955.2 497.3 955.2 500 955.2 502.7 954.4 505.3 952.7 506.6 950.3 506.9 948.8 508.6 946.6 510.1 944 510.2 943.7 512.3 943.6 514.5 943.2 516.6 943.6 518.8 942.2 520.8 942.4 523 942.4 523 940 523 937.4 523.9 934.8 524.4 932.1 524.2 929.8 523 927.3 522.6 924.9 521.7 922.5 521 922.7 518.8 923.3 516.6 923 514.1 922.5 511.7 921 510.1 919.2 508.9 916.4 509.2 913.6 509.7 911.2 508.3 909.2 506.5 906.8 506.9 905.4 509.1 903.1 509.7 900.6 509.3 898.3 508.1 896.2 506.5 893.5 506.1 891.3 506.1 889.2 506.8 887 506.5 884.4 507 882.2 508.5 880.4 507.1 878.2 506.5 877.9 509.3 876.6 511.7 877.5 515 876.6 517 875.8 519 876.5 520.8 877.7 522.4 879 523.8 880.3 526.1 881 528.6 880.7 531.1 880.2 533.5 880.1 536.1 881.4 538.3 879.8 540.7 876.8 540.8 874.2 539.5 872.2 538.4 869.9 538.7 867.7 538.3 865.2 538.6 862.8 539.4 860.5 540.3 858.3 540.9 856.2 541.7 854 542.3 853.7 542.5 853.7 542.5 850.5 541.7 848.4 542.4 846.3 542.5 844.1 542.5 841.6 542.4 839.6 540.7 837.1 540.5 834.6 540.4 832.3 539.7 830.3 538.4 828.2 537.6 825.8 537.3 823.5 537.3 821.7 539 819.4 538.9 817.3 538.1 815.2 537.9 813 538.1 813 538.1 810.8 536.3 808.9 534.1 807.6 531.7 806.5 529.2 807.9 527 808.1 524.4 807.9 522.2 809 520.2 808.9 518 808.3 516.1 807.2 514.4 807.3 512.3 807.3 512.3 808.9 510.5 811.3 509.9 812.7 508.4 814.4 507.5 816.2 506.7 818.3 506.6 820 505.7 821.6 504.5 824.1 503.5 826.4 502.1 826.8 500 827.3 497.9 827.2 495.7 826.4 493.7 825.8 491.7 825.5 489.6 824.8 487.6 824.7 485.6 826.2 484 826.4 482 827.7 480.3 830 480.4 831.3 478.8 832.9 476.7 835.3 475.5 833.7 473.6 831.3 472.6 829.7 470.7 832.1 468.3 834.9 468 837.7 467.5 839.4 466.2 840.5 464.3 840.5 464.3 842.5 464.8 844.2 465.9 846.2 467.1 848.7 466.9 850.6 468.3 852.6 468.4 854.1 470.1 856.2 469.9 856 467.4 857 465.1 857.3 462.9 857.2 460.7 857.8 458.6 859.6 456.5 860.3 453.8 862.5 453.2 864.8 452.7 866.7 451.4 869.1 450.5 871.5 449.8 873.7 448.4 876.4 448.2 878.3 447.2 879.8 445.8 881.2 444.2 884.4 445.4Z" fill="#64a1ce" stroke="#64a1ce" stroke-width=".7"/>
<path d="M551.3 384.2 552.7 382.3 554.6 380.9 557.3 381.1 559.8 380 562.4 379.5 563.8 377.7 565.7 376.3 566.7 374.2 568.8 373 571.2 372.2 572.5 369.7 574.9 368.8 576.9 367.4 579.1 366.1 581.7 365.8 584 364.7 586.6 365.2 588.9 364.3 588.9 364.3 589.1 366.7 590.2 368.7 591.2 370.8 591 373.1 591.7 375.3 592.8 377.3 594.7 377.9 596.1 379.3 597.6 380.5 599 382.3 600.8 383.7 601.8 385.4 603.4 386.7 604.1 388.6 604 390.8 605 392.8 604.9 395 603.4 397.3 602.5 399.8 602.7 402.4 601.6 404.7 602.7 406.5 603.9 408.3 605.7 409.5 607.3 411.1 608.9 412.7 611 412.7 612.9 413.7 612.9 413.7 610.5 416.1 609.6 418.1 609.4 420.1 610.2 422.2 609.7 424.2 610 426.3 610.2 428.4 612.1 430 612.1 432.2 612.9 434.1 613.6 436.1 613.5 438.2 613.7 440.3 612.4 442.5 612.1 445.1 610 445.9 607.8 446.6 605.7 447.5 603.7 448.1 601.7 448.7 600 449.9 599.5 451.9 597.5 452.9 596.8 454.7 597.3 457.2 596.8 459.6 596.2 462 596 464.4 595.5 466.4 595.9 468.4 595.3 470.5 596 472.5 596.2 474.7 596.9 476.9 596.8 479.2 596.8 479.2 593.6 479.7 590.7 479.5 588 480.5 585.7 482 583.1 482.9 580.9 481.5 578.3 481.3 576.2 482.1 574.1 482.6 571.9 482.1 570.2 482.9 568.6 483.7 566.3 484.4 564.6 486.1 562.8 485 561.7 483 559.8 482.1 557.5 481.6 555.4 482.5 555.4 482.5 554.5 480.7 554.4 478.6 553 477 552.3 474.5 552.2 472 552.1 469.5 552.3 467 552 464.6 551.6 462.2 551.3 459.8 551.8 457.4 551.5 454.9 553.2 452.7 553 450.2 552.6 447.8 552.7 445.3 552.2 442.9 552.1 440.5 552.7 438.1 553.1 435.7 552.6 433.2 553 430.8 552.7 428.4 552.1 426 551.4 423.7 551.3 421.2 551 419 551.5 416.8 552.1 414.7 552.2 412.4 551 410.4 550.5 408.3 550 405.9 550.5 403.4 549.5 401.1 549.7 398.6 551.1 396.7 551 394.2 552.1 392.2 551.5 389.6 551.4 386.9 551.3 384.2Z" fill="#5c9ccb" stroke="#5c9ccb" stroke-width=".7"/>
<path d="M607.4 306.2 610.5 304.8 613.7 304 615.2 302.9 616.9 302.4 619.2 302.5 621.2 303.5 623.4 304 625.4 303.5 626.7 302 628.2 300.8 630.3 301.9 631.1 304.3 633 305.6 635.4 304.9 637.9 304.8 640.3 306 642.7 307.2 644.3 309.2 645.9 311.3 648.3 313.7 649.1 311.3 649.9 308.9 651.7 307.6 653.8 306.9 655.6 305.6 658.2 304.7 660.4 303.2 661.7 301.9 663.6 301.6 664.9 303.6 665.2 305.9 666 308.1 665.7 310.3 666.5 312.2 666.6 314.2 667.7 316.1 670.1 315.7 670.1 315.7 670 318 668.7 319.9 668.9 322.2 667.7 324.2 668 326.3 669.7 327.7 670.1 329.8 671.7 331.2 672.8 333 674.1 334.6 674.5 337.1 675.8 339.3 675.7 341.9 675.7 344.1 676.1 346.2 676.5 348.3 676.7 350.5 677.4 352.6 678.1 354.7 676.8 356.8 676.3 359.2 674.9 361.2 674.3 363.3 673.7 365.4 673.3 367.6 673.6 369.8 673.2 372 674.1 374.1 675.6 376.1 678.1 376.9 679.7 378.9 681.5 381 682.1 383.7 682 385.7 682.4 387.8 680.8 389.7 681.3 391.8 681.8 393.9 682 396 682.1 398.2 682.2 400.4 683.3 402.5 683 404.7 681.4 406.4 679.9 408.1 678.1 409.5 675.9 410.8 674.1 412.7 674.6 415.4 673.8 418 673.8 418 671.6 418.4 670.1 420.1 667.9 420.4 665.7 420 663.6 420.9 661.5 421.2 659.4 422.1 657.2 421.7 657 419.5 655.6 417.7 655.8 415.4 654.9 413.3 654 411.3 653.2 409.4 653 407.2 651.6 405.6 649.1 406.4 646.8 407.2 644.8 408.5 642.7 409.7 640.1 410.7 637.3 409.8 634.7 410.5 632.7 411.3 630.7 410.9 628.6 410.4 626.6 411.3 624.6 412.3 622.3 411.4 620.2 412.1 617.9 413.1 615.5 413.8 612.9 413.7 612.9 413.7 611 412.7 608.9 412.7 607.3 411.1 605.7 409.5 603.9 408.3 602.7 406.5 601.6 404.7 602.7 402.4 602.5 399.8 603.4 397.3 604.9 395 605 392.8 604 390.8 604.1 388.6 603.4 386.7 601.8 385.4 600.8 383.7 599 382.3 597.6 380.5 596.1 379.3 594.7 377.9 592.8 377.3 591.7 375.3 591 373.1 591.2 370.8 590.2 368.7 589.1 366.7 588.9 364.3 588.9 364.3 588.1 362.6 589.4 360.3 589.6 357.7 590.5 355.3 589.7 352.7 590.7 349.9 589.7 347.3 590.2 345.3 589.6 343.2 589.8 341.2 590.5 339.2 592 337.7 592.8 335.6 594.6 334.4 595.5 332.4 596.9 330.5 598.1 328.7 598.6 326.4 598.3 323.9 598.6 321.5 599.8 319.5 599.7 317 601 315.1 602.4 313.3 604.2 311.9 604.8 309.7 606.3 308.1 607.4 306.2Z" fill="#5698c9" stroke="#5698c9" stroke-width=".7"/>
<path d="M612.9 413.7 615.5 413.8 617.9 413.1 620.2 412.1 622.3 411.4 624.6 412.3 626.6 411.3 628.6 410.4 630.7 410.9 632.7 411.3 634.7 410.5 637.3 409.8 640.1 410.7 642.7 409.7 644.8 408.5 646.8 407.2 649.1 406.4 651.6 405.6 653 407.2 653.2 409.4 654 411.3 654.9 413.3 655.8 415.4 655.6 417.7 657 419.5 657.2 421.7 659.4 422.1 661.5 421.2 663.6 420.9 665.7 420 667.9 420.4 670.1 420.1 671.6 418.4 673.8 418 673.8 418 675 420 675.1 422.3 676.5 424.2 677.5 426.1 676.9 428.3 677.2 430.3 678.1 432.2 678.8 435 678.9 437.8 680.5 439 681.7 440.7 683.2 442.1 684.6 443.5 687 445.8 687 445.8 686.1 448 684 449.4 683 451.5 682.7 453.7 681.4 455.7 681.3 458 682.1 460.3 683.8 462.1 684.6 464.4 684.8 466.8 685.7 468.8 687 470.8 688.6 472.2 690 473.8 691 475.7 692 477.8 693.4 479.8 694.2 482.1 693 484.4 692.6 486.9 691.5 489 689.4 490.2 687.7 491.8 687.1 494 685.8 495.8 685.8 495.8 686.8 498.1 688.6 499.8 689.3 501.8 691 503 691 503 688.9 503.4 686.7 503.6 684.6 503 682.2 503.4 680.4 505.1 678.1 505.5 675.8 506 673.8 507.1 671.7 507.9 669.2 508.1 666.9 507.1 665 505.6 662.8 505 660.4 504.7 659.2 506.7 657.2 507.9 655.6 509 654.2 510.4 652.4 511.1 652.4 511.1 650.6 510.6 649.1 509.5 646.7 508.3 644.8 506.4 642.7 504.7 640.5 504.9 638.2 504.7 637.1 507.1 635.3 506.2 634.7 504 633 503 630.9 502.2 628.7 501.4 626.6 500.6 624.9 499.4 623.7 497.6 621.8 496.6 619.9 495 617.6 494.2 615.3 493.4 613.7 492.1 612.3 490.5 610.5 489.4 608.2 489.1 606.1 488 604.1 486.9 601.5 487.6 598.9 487.7 598.9 487.7 598.5 485.3 599.2 482.9 598.4 480.8 596.8 479.2 596.8 479.2 596.9 476.9 596.2 474.7 596 472.5 595.3 470.5 595.9 468.4 595.5 466.4 596 464.4 596.2 462 596.8 459.6 597.3 457.2 596.8 454.7 597.5 452.9 599.5 451.9 600 449.9 601.7 448.7 603.7 448.1 605.7 447.5 607.8 446.6 610 445.9 612.1 445.1 612.4 442.5 613.7 440.3 613.5 438.2 613.6 436.1 612.9 434.1 612.1 432.2 612.1 430 610.2 428.4 610 426.3 609.7 424.2 610.2 422.2 609.4 420.1 609.6 418.1 610.5 416.1 612.9 413.7Z" fill="#4e92c5" stroke="#4e92c5" stroke-width=".7"/>
<path d="M472.2 361 471.3 359 471 356.9 470.9 354.8 471.4 352.5 470.6 350.5 469 348.4 466.6 347.3 466.3 345.3 466.4 343.2 466.5 341.2 466.6 339.2 465.5 337.4 463.6 336.2 462.5 334.4 461.2 332.1 460.6 329.7 459.6 327.3 459.3 324.7 457.9 322.7 457.8 320.1 456.1 318.3 455.9 315.6 457 313 456.9 310.3 455.9 308.5 455.2 306.5 454.5 304.6 455.3 301.4 457.4 300.8 459.6 301.7 461.7 301.4 463.5 299.8 465.5 298.6 467.1 296.8 468.7 295.1 470.6 293.6 472.9 292.7 474.3 290.7 476.6 289.9 478.3 288.2 480.3 286.9 482.2 286.1 484.3 286.2 486.4 286.1 488.3 285.3 490.5 285.6 492.7 285.6 494.7 284.1 496.9 285.1 499 283.8 501.2 284.2 503.4 282.9 505.8 282.3 508.3 281.8 510.8 281.6 513.2 281.7 515.7 281.6 517.6 282.6 519.7 282.8 521.6 283.5 523.7 283.7 526 284.9 528.5 285.1 531 285.3 531 285.3 531.4 287.5 531.2 289.8 530.9 292 531.8 294.2 530.2 295.7 529.9 297.9 528.5 299.5 527.7 301.4 528.2 303.6 528.9 305.8 529.7 307.9 529.4 310.3 530.5 312.1 531.8 313.8 533.1 315.5 535 316.7 536.7 318.4 538.9 319.7 540.6 321.5 540.3 323.8 541.7 325.7 541.7 328 541.8 330.2 543.3 332.1 543 334.4 545.1 335.9 547.1 337.6 546.9 339.8 545.5 341.6 544.3 343.4 541.8 343.8 540.6 345.7 541 348.4 539.7 351 539.8 353.7 538.2 355.6 538.1 358.2 536.6 360.2 535 359.1 533.3 358.1 531.8 356.9 529.7 357.9 527.5 358.8 525.3 359.4 522.4 359.3 519.7 360.2 518.3 362.1 517.3 364.2 515.3 364.7 513.4 365.4 511.6 366.6 510.9 368.5 510.8 370.6 511.1 373 511.3 375.5 511.8 377.9 511.8 377.9 509.4 377.1 506.9 377.4 504.4 377.1 502.1 376 499.5 376.7 497.1 376.1 494.7 375.5 493.3 373.5 491.2 372 489.9 369.8 487.6 369.2 485.8 367.6 483.5 366.8 481.9 365 479.5 363.8 477 362.9 474.6 361.8 472.2 361Z" fill="#347fb8" stroke="#347fb8" stroke-width=".7"/>
<path d="M670.1 315.7 671.8 314.4 673.9 314.2 675.8 313.5 677.6 311.7 679.8 310.4 682.2 309.4 684.1 310.4 686.3 310.2 688.3 310.8 690.3 311.1 693 311 695.7 310.9 698.3 310.3 700.4 311.5 702.5 312.6 704.7 313.5 706.3 314.9 707.3 316.8 708.8 318.3 710.1 319.8 711.3 321.3 712 323.1 713.8 322.6 715.7 322.8 715.7 322.8 715.2 325.1 714.9 327.5 713.6 329.6 713.3 331.8 714.6 333.8 714.4 336 716 337.6 718.1 338.7 719.2 340.8 720 343.1 721.7 345 722.5 347.3 723.6 349.1 725.1 350.8 725.7 352.9 728.4 352.4 731.1 352.7 733.7 353.7 735.5 355.9 737.7 357.7 738.6 359.6 739.2 361.6 740.2 363.4 742.1 364.8 744.4 365.7 746.6 366.6 748.9 366.4 750.9 367.4 753 368.2 755.4 367.3 757.9 366.6 759.1 364.8 761.5 364.4 762.7 362.6 765.9 363.4 767 365 768.3 366.4 769.1 368.2 770.1 370.4 771.1 372.6 772.4 374.7 772.9 377.3 774 379.7 774.5 382.3 774.5 382.3 774.5 382.3 774.5 382.3 772.8 384.1 771.8 386.4 770 388.3 767.7 389.7 767.1 392.1 766.9 394.5 765.7 396.9 764.5 399.3 762.3 400.7 760.5 402.5 759 403.7 757.4 404.9 755.7 405.8 753.3 406.4 750.8 406.6 748.9 405.8 747.6 404.2 746.2 401.9 746 399.3 744.4 401.7 743.5 403.9 742 405.8 740.5 408.1 739.6 410.6 739.3 412.8 738.1 414.8 738 417 736.6 419 736.6 421.5 735.5 423.5 735.1 425.8 733.5 427.6 733.1 429.9 731.5 431.3 729.7 432.4 728.3 433.9 726.2 434.5 724.1 435.2 721.9 435.5 719.8 435.3 717.9 436.1 715.9 436.9 713.8 436.4 711.7 437.3 709.5 436.7 707.4 437.2 705.2 437.9 702.8 438.2 700.9 439.6 698.5 439.1 696.1 438.8 694 439.5 691.9 440.2 689.7 440.4 688.9 442.3 687.7 443.9 687 445.8 687 445.8 684.6 443.5 683.2 442.1 681.7 440.7 680.5 439 678.9 437.8 678.8 435 678.1 432.2 677.2 430.3 676.9 428.3 677.5 426.1 676.5 424.2 675.1 422.3 675 420 673.8 418 673.8 418 674.6 415.4 674.1 412.7 675.9 410.8 678.1 409.5 679.9 408.1 681.4 406.4 683 404.7 683.3 402.5 682.2 400.4 682.1 398.2 682 396 681.8 393.9 681.3 391.8 680.8 389.7 682.4 387.8 682 385.7 682.1 383.7 681.5 381 679.7 378.9 678.1 376.9 675.6 376.1 674.1 374.1 673.2 372 673.6 369.8 673.3 367.6 673.7 365.4 674.3 363.3 674.9 361.2 676.3 359.2 676.8 356.8 678.1 354.7 677.4 352.6 676.7 350.5 676.5 348.3 676.1 346.2 675.7 344.1 675.7 341.9 675.8 339.3 674.5 337.1 674.1 334.6 672.8 333 671.7 331.2 670.1 329.8 669.7 327.7 668 326.3 667.7 324.2 668.9 322.2 668.7 319.9 670 318 670.1 315.7Z" fill="#2a77b3" stroke="#2a77b3" stroke-width=".7"/>
<path d="M424.2 455.8 421.7 455.2 419.3 454.5 417.1 453 414.5 452.9 413.6 455.4 412.1 457.7 410.4 459 409.7 460.9 408 462.8 407 465 406.4 467.4 406.8 469.8 405.6 472.2 406.1 474.6 404.7 476.3 403.5 478.1 401.6 479.4 400.3 481.1 400.1 483.1 400 485.1 399.7 487.6 400.8 489.9 402 491.4 402.4 493.5 404 494.7 404.9 496.4 406.7 497.6 407.2 499.6 409 500.7 410.9 501.1 412.9 501.2 414.3 502.9 415.6 504.6 416.1 506.8 418.4 507.9 420.2 509.8 422.5 510.8 423.5 512.5 425.4 513.4 426.6 514.9 428.1 513.4 430 512.5 432.3 512.4 433.8 510.8 435.7 510.4 437.6 510 439.4 509.2 441.2 510.1 443 510.9 444.3 512.5 446.6 513.3 449.2 513.1 451.5 514.1 453.8 515.1 456.5 514.2 458.8 515.4 461.2 515.7 463.6 516.4 466 516.3 468.5 516.5 470.8 517.3 473.3 517 475.7 517.7 478.1 518.2 480.5 518.6 482.8 517.6 485.3 517.3 487.5 516.3 489.7 515.3 489.7 515.3 488.9 513.3 489.4 511.2 489.4 509.2 489.4 506.9 488.7 504.8 487.7 502.8 486.4 501.3 486.1 499.3 484.5 498 482.5 496 480.5 493.9 478.8 492.7 476.7 492.5 474.9 491.5 473.5 490.2 473.3 488.3 471.1 486.9 469.2 485.1 467.4 484.3 465.6 483.5 463.6 483.5 462.9 481.2 461.3 479.5 459.6 477.8 458.1 476.6 456.2 475.9 454.7 474.6 452.8 473.1 450.7 471.9 450.7 471.9 448.4 470.9 446 470 443.5 469.5 441.3 469.1 439.1 468.7 437 467.9 435.2 466.2 432.5 466.2 430.6 464.7 429.1 462.6 427.7 460.5 426.6 458.2 424.2 455.8Z" fill="#1b68a5" stroke="#1b68a5" stroke-width=".7"/>
<path d="M519.9 397.8 520.4 395.3 522.2 393.2 522.4 390.6 524.3 389.2 526.7 389 528.8 388.2 531 387.8 533 389.4 535.2 389 536.4 387.1 538 385.8 540.1 385 542.2 385.9 544.4 385.5 546.5 385.8 549.1 385.5 551.3 384.2 551.3 384.2 551.4 386.9 551.5 389.6 552.1 392.2 551 394.2 551.1 396.7 549.7 398.6 549.5 401.1 550.5 403.4 550 405.9 550.5 408.3 551 410.4 552.2 412.4 552.1 414.7 551.5 416.8 551 419 551.3 421.2 551.4 423.7 552.1 426 552.7 428.4 553 430.8 552.6 433.2 553.1 435.7 552.7 438.1 552.1 440.5 552.2 442.9 552.7 445.3 552.6 447.8 553 450.2 553.2 452.7 551.5 454.9 551.8 457.4 551.3 459.8 551.6 462.2 552 464.6 552.3 467 552.1 469.5 552.2 472 552.3 474.5 553 477 554.4 478.6 554.5 480.7 555.4 482.5 555.4 482.5 553.3 482 551.3 481.1 548.8 480.6 546.5 479.4 544.1 479.8 541.7 480.3 539.8 479.5 538.5 477.8 535.9 477.5 533.6 476.2 531.6 477.5 529.3 477.4 529.3 477.4 528.8 474.3 527.3 472.8 525.7 471.5 524 470.3 521.9 469.3 519.7 468.5 517.5 467.9 515.7 467.1 514.5 465.4 512.7 464.7 511.8 462.3 511.1 459.8 509 458.3 507.1 456.6 504.9 456.2 503 455 502.2 453.1 502.3 450.9 501.6 449 501.4 446.9 501.3 444.8 499.9 443 500.3 440.9 499.8 438.9 499.6 436.7 498.5 434.7 497.4 432.8 496.6 430.8 495.6 428.9 495.8 426.8 495.8 426.8 496.6 423.6 498.2 422.1 500.5 421.7 502.2 420.4 504.7 418.8 506.3 416.4 507.8 414.2 507.9 411.5 509.6 410.6 510.7 408.8 512.7 408.3 514.9 407.8 516.7 406.6 518.3 405.1 518.8 402.7 518.7 400.1 519.9 397.8Z" fill="#14619f" stroke="#14619f" stroke-width=".7"/>
<path d="M652.4 511.1 654.2 510.4 655.6 509 657.2 507.9 659.2 506.7 660.4 504.7 662.8 505 665 505.6 666.9 507.1 669.2 508.1 671.7 507.9 673.8 507.1 675.8 506 678.1 505.5 680.4 505.1 682.2 503.4 684.6 503 686.7 503.6 688.9 503.4 691 503 691 503 693 503.7 694.6 505.1 696.8 505.9 699 506.4 701.1 507.5 703.5 507.3 705.9 507 705.9 507 704.3 508.5 702.7 509.9 703.1 512.1 702.5 514.3 703.5 516.4 704.3 518.7 705.1 520.9 706.7 522.8 706.6 525.1 707.8 527.1 708.3 529.2 710 530.7 711.7 532.3 713.1 534.1 715.2 534.3 717.2 534.8 719.3 534.9 721.2 535.7 723.2 536.9 724.4 538.9 724.8 541.4 726 543.7 725.8 545.9 726.7 548 726.8 550.2 727.6 552.3 729.5 553.3 730.8 555 733.4 555.3 735.7 556.6 737.6 557.2 738.7 559 740.5 559.8 741.9 562 742.1 564.7 740.5 565.9 739.5 567.6 738.9 569.5 737 571.1 734.6 571.6 732.5 572.7 731 574.9 730.8 577.5 730.9 574.9 732.4 572.7 732.7 576.1 734.4 577.3 735.3 579 735.9 580.9 736.9 583.5 738.3 585.8 738.6 587.6 738.8 589.5 738.8 589.5 736.3 590.3 733.7 591 731.1 591.4 729.2 592.9 726.6 593.1 724.7 594.6 723.4 596.2 722.2 597.8 721.9 600.1 720.4 602.1 719.8 604.3 719 606.3 717.5 607.9 716.6 609.9 715.7 612.1 713.7 613.7 713.2 616.1 711.8 618 710.2 619.3 709.2 621.1 708.3 622.9 706.9 624.4 705.2 626.4 704 628.7 702.3 630.6 700.5 632.5 699 634.2 697.7 636.1 695.2 636.8 694.1 638.9 692.4 640.4 690.6 641.8 688.8 643.3 687.6 645.3 685.3 646.1 683.7 647.8 682 649.4 681.2 651.4 680.4 653.4 682.7 654.2 685.2 654.2 684.4 656.3 685.1 658.6 684.3 660.8 684.4 663 683.4 664.8 682 666.3 682.4 664.1 681.2 662 681.2 659.8 679.1 658.7 678 656.6 675.4 656.3 673.1 655 671 655.7 668.8 654.8 666.7 655 664.6 656.2 662.2 656.6 660.3 658.2 658.6 659.3 657.1 660.7 655.7 662.1 653.8 663 651.6 661.6 649 661.4 648 663.9 646.6 666.3 644.9 665.1 642.6 665.9 640.9 664.7 638.8 663.5 636.8 662.1 634.5 661.4 632.3 660 630.5 658.2 629.9 656.2 629.3 654.3 628.1 652.6 629.7 651.4 631.3 650.2 633.8 650.8 636.1 651.8 636.8 649.5 638.5 647.7 638.4 644.9 637.7 642.1 639.6 640.8 640.9 638.9 642.9 638.8 644.9 638.5 646.6 637.3 647.5 634.9 648.2 632.5 649.1 630.7 648.5 628.7 649 626.8 651 626.3 652.6 625 654.6 624.4 655.5 621.9 657 619.6 656.8 617.3 658.2 615.3 658.6 613.1 656.8 611.9 656.1 609.8 654.6 608.3 655.1 605.7 655.3 603 655.4 600.3 656.9 598.9 658.6 597.8 660.5 597.4 662.3 596.4 664.3 596.2 664.8 598.6 665 601 665.1 603.5 666 600.9 667.5 598.6 669.9 600.3 671.8 599.3 673.9 598.6 674.7 600.6 676.4 601.9 677.8 603.5 679.7 604.4 681.2 605.9 682.5 603.7 684.4 601.9 686.8 602.3 689.2 602.7 691.3 603.7 693.5 604 695.7 604.3 698.2 603.8 700.5 602.7 698.9 600.3 696.9 600 695.3 598.9 693.3 598.6 691.9 596.4 691.6 593.8 692 591.7 692.9 589.6 692.5 587.4 692 585.1 692.3 583 693.3 580.9 692.2 579.2 690.8 577.7 689.2 576.5 687.4 575.9 685.3 574.8 683.2 573.6 680.9 572.7 681 570.2 680.1 567.9 678.5 566.6 677.8 564.7 676.9 563 677.3 560.9 676.9 558.7 677.7 556.6 677.3 554.4 677.3 552.2 676.1 550.2 673.7 551.8 672 549.5 669.7 547.7 668 546.5 666.5 545 664.8 543.7 664.1 541.1 662.4 538.9 663.3 537.2 664.4 535.6 665.6 534.1 665.5 531.9 665.1 529.8 664.8 527.6 665.2 525.4 665.7 523.3 666.4 521.2 664.7 519 664 516.4 661.5 515.3 660 513.1 657.5 512.1 654.8 512.2 652.4 511.1Z" fill="#105d9b" stroke="#105d9b" stroke-width=".7"/>
<path d="M531 285.3 533 285.2 534.8 284.6 536.6 283.7 538.7 283.5 540.6 284.8 542.6 285.5 544.7 285.3 546.5 286.5 548.9 286 550.8 286.9 552.7 287.7 555 288.9 557.7 288.3 559.9 290 562.4 290.1 564.6 290 566.6 290.9 568.8 290.9 571.1 292.2 573.6 292.7 576 293.7 578.5 294.2 580 293.2 581.7 292.5 583.9 294 586.5 294.2 588 295.8 588.3 298.1 589.7 299.8 592.4 300.6 594.6 302.2 596.8 302.2 598.9 302.7 601 303 603.1 304.1 605 305.6 607.4 306.2 607.4 306.2 606.3 308.1 604.8 309.7 604.2 311.9 602.4 313.3 601 315.1 599.7 317 599.8 319.5 598.6 321.5 598.3 323.9 598.6 326.4 598.1 328.7 596.9 330.5 595.5 332.4 594.6 334.4 592.8 335.6 592 337.7 590.5 339.2 589.8 341.2 589.6 343.2 590.2 345.3 589.7 347.3 590.7 349.9 589.7 352.7 590.5 355.3 589.6 357.7 589.4 360.3 588.1 362.6 588.9 364.3 588.9 364.3 586.6 365.2 584 364.7 581.7 365.8 579.1 366.1 576.9 367.4 574.9 368.8 572.5 369.7 571.2 372.2 568.8 373 566.7 374.2 565.7 376.3 563.8 377.7 562.4 379.5 559.8 380 557.3 381.1 554.6 380.9 552.7 382.3 551.3 384.2 551.3 384.2 549.1 385.5 546.5 385.8 544.4 385.5 542.2 385.9 540.1 385 538 385.8 536.4 387.1 535.2 389 533 389.4 531 387.8 528.8 388.2 526.7 389 524.3 389.2 522.4 390.6 522.2 393.2 520.4 395.3 519.9 397.8 519.9 397.8 518.5 396.2 517.6 394.1 516.7 392.1 515.1 390.6 513.9 388.7 513.6 386.5 513.7 384.2 513.5 382 513 379.9 511.8 377.9 511.8 377.9 511.3 375.5 511.1 373 510.8 370.6 510.9 368.5 511.6 366.6 513.4 365.4 515.3 364.7 517.3 364.2 518.3 362.1 519.7 360.2 522.4 359.3 525.3 359.4 527.5 358.8 529.7 357.9 531.8 356.9 533.3 358.1 535 359.1 536.6 360.2 538.1 358.2 538.2 355.6 539.8 353.7 539.7 351 541 348.4 540.6 345.7 541.8 343.8 544.3 343.4 545.5 341.6 546.9 339.8 547.1 337.6 545.1 335.9 543 334.4 543.3 332.1 541.8 330.2 541.7 328 541.7 325.7 540.3 323.8 540.6 321.5 538.9 319.7 536.7 318.4 535 316.7 533.1 315.5 531.8 313.8 530.5 312.1 529.4 310.3 529.7 307.9 528.9 305.8 528.2 303.6 527.7 301.4 528.5 299.5 529.9 297.9 530.2 295.7 531.8 294.2 530.9 292 531.2 289.8 531.4 287.5 531 285.3Z" fill="#0e5a98" stroke="#0e5a98" stroke-width=".7"/>
<path d="M450.7 471.9 450.8 469.7 451.2 467.5 451.1 465.2 451.5 463 452.6 461 452.6 458.5 453.9 456.6 455.5 454.6 457.2 452.6 459.6 451.7 462 450.9 464.4 450.2 466.5 449.8 468.6 449.5 470.5 448.4 472.5 447.7 474.6 446.3 476.8 445 478.9 443.7 480.5 442.1 482.1 440.5 481.9 438 482.9 435.7 484.2 433.7 484 431.2 485.3 429.2 487.7 427.9 490.2 426.8 493 426.2 495.8 426.8 495.8 426.8 495.6 428.9 496.6 430.8 497.4 432.8 498.5 434.7 499.6 436.7 499.8 438.9 500.3 440.9 499.9 443 501.3 444.8 501.4 446.9 501.6 449 502.3 450.9 502.2 453.1 503 455 504.9 456.2 507.1 456.6 509 458.3 511.1 459.8 511.8 462.3 512.7 464.7 514.5 465.4 515.7 467.1 517.5 467.9 519.7 468.5 521.9 469.3 524 470.3 525.7 471.5 527.3 472.8 528.8 474.3 529.3 477.4 529.3 477.4 528.7 479.7 529.6 481.9 529.6 484.1 529.7 486.3 528.8 488.3 526.6 489.6 524.8 491.5 522.7 491.3 521.1 492.8 519.1 493.1 517 493.7 516.2 496 514.2 496.7 512.7 498 511.4 499.5 511 501.5 509.5 502.8 507.5 504 506.1 505.8 504.7 507.6 503.6 509.7 503.4 512.1 502.2 514.1 502.2 516.3 502.8 518.4 503 520.5 502.3 523 502.2 525.6 502.2 528.2 502.2 528.2 500.6 525.3 499 524 498.2 522.1 496.2 521.7 494.9 520.1 493.4 518.9 491.7 517 489.7 515.3 489.7 515.3 488.9 513.3 489.4 511.2 489.4 509.2 489.4 506.9 488.7 504.8 487.7 502.8 486.4 501.3 486.1 499.3 484.5 498 482.5 496 480.5 493.9 478.8 492.7 476.7 492.5 474.9 491.5 473.5 490.2 473.3 488.3 471.1 486.9 469.2 485.1 467.4 484.3 465.6 483.5 463.6 483.5 462.9 481.2 461.3 479.5 459.6 477.8 458.1 476.6 456.2 475.9 454.7 474.6 452.8 473.1 450.7 471.9Z" fill="#0c5694" stroke="#0c5694" stroke-width=".7"/>
<path d="M502.2 528.2 502.2 525.6 502.3 523 503 520.5 502.8 518.4 502.2 516.3 502.2 514.1 503.4 512.1 503.6 509.7 504.7 507.6 506.1 505.8 507.5 504 509.5 502.8 511 501.5 511.4 499.5 512.7 498 514.2 496.7 516.2 496 517 493.7 519.1 493.1 521.1 492.8 522.7 491.3 524.8 491.5 526.6 489.6 528.8 488.3 529.7 486.3 529.6 484.1 529.6 481.9 528.7 479.7 529.3 477.4 529.3 477.4 531.6 477.5 533.6 476.2 535.9 477.5 538.5 477.8 539.8 479.5 541.7 480.3 544.1 479.8 546.5 479.4 548.8 480.6 551.3 481.1 553.3 482 555.4 482.5 555.4 482.5 557.5 481.6 559.8 482.1 561.7 483 562.8 485 564.6 486.1 566.3 484.4 568.6 483.7 570.2 482.9 571.9 482.1 574.1 482.6 576.2 482.1 578.3 481.3 580.9 481.5 583.1 482.9 585.7 482 588 480.5 590.7 479.5 593.6 479.7 596.8 479.2 596.8 479.2 598.4 480.8 599.2 482.9 598.5 485.3 598.9 487.7 598.9 487.7 596.5 488.6 594.4 490.2 592 489.6 589.6 489.4 587.3 489.3 585.4 491.1 583.1 491 580.6 490.9 578.3 491.8 576.2 493.1 574.3 494.7 572.6 493.6 571.1 492.1 569.7 493.6 568.1 494.9 567 496.6 565 497.4 564.2 499.8 562.2 500.6 560.5 502 558.5 502.4 556.6 503 554.6 503.6 553.7 505.6 553 507.6 551.6 509.5 549.7 510.8 547 510.5 544.4 510.2 541.7 510.8 539.7 511.6 537.5 511.7 535.7 512.9 533.6 513.3 531.6 514.4 529.4 515 527.2 515.7 525 515.7 523.2 517 521.2 517.9 519.1 518.1 516.9 518.5 514.9 519.2 512.7 519.7 511.3 521 511.1 522.9 509.4 524.5 507.1 525.3 504.4 526.2 502.2 528.2Z" fill="#0a5190" stroke="#0a5190" stroke-width=".7"/>
<path d="M906.3 378 908.3 376.9 910.8 377 912.7 375.5 914.8 375.7 916.7 374.6 918.9 374.9 920.8 373.9 923 374.3 925.1 373.6 927.2 373.1 929 374.3 929.5 376.4 930.7 378.1 932 379.6 934.3 379.4 936.2 381.2 938.5 381.2 940.8 382 942.8 383.3 944.9 384.4 947 383.6 949.2 383 951.3 382 953.6 381.7 955.7 380.7 957.8 379.6 960 379.2 961.7 377.8 963.5 376.5 965.8 376.4 967.8 375.5 969.8 374.5 971.7 373.6 973.9 373.1 974.9 373.3 976.4 375.1 976.5 377.4 978.7 378.8 980.5 380.6 981.6 382.9 982.1 385.4 982.9 387.4 984.2 388.9 985.2 390.6 986.9 391.9 988.3 393.7 989.7 395.6 991.8 396.7 993.5 398.2 995.1 399.8 996.6 401.5 997.6 403.4 997.9 405.5 997.9 405.5 996.7 407.2 995.9 409.1 995.8 411.2 995.5 413.4 996.3 415.5 996.6 417.6 995.9 419.5 994.6 420.9 993.4 422.5 992.6 425.1 991 427.3 992 429.3 992.2 431.5 991.8 433.7 992.7 435.8 993 438 992.6 440.2 993.1 443 993.9 445.8 993.9 445.8 991.3 444.8 988.6 444.2 986.4 444.4 984.2 444.2 982.1 445 980.2 445.6 979.1 447.4 977.3 448.2 977.1 450.8 975.7 453 974.5 454.7 972.1 454.8 970.8 456.3 970 458.7 969.2 461.1 967.5 463.1 965.2 464.3 964.7 466.4 963.6 468.3 961.9 467.8 960.1 467.5 957.9 467.1 955.8 468.3 953.6 468.3 951.7 468.9 950 470 948 469.9 947.8 472 947.3 474.1 947 476.2 947.5 478.3 947.5 478.3 945.1 477.1 942.4 477 939.9 476.4 938 478 937 480.4 935.1 482 934.1 480.3 932.7 478.8 931.6 476.9 930.8 474.9 929.5 473.1 927.9 471.8 927 470.2 926.3 468.3 925.8 466.1 923.7 464.8 923 462.7 921.5 461.2 920.9 459 919 457.8 916.3 458.9 913.4 458.6 911.2 458.3 909.1 457.5 906.9 457.8 904.9 456.5 902.8 455.4 900.5 454.6 898.8 453.4 897.2 452.1 895.7 450.6 894.3 449 892.3 448.1 890.8 446.6 888.7 445.9 886.5 446.2 884.4 445.4 884.4 445.4 883.6 442.8 883.6 440.1 885.7 439.5 887.6 438.5 890.1 438 892.3 436.4 894.9 436.1 894.2 435.9 895 433.3 896.6 431.1 898.1 428.6 900.6 427.1 899.9 425.1 899.8 423 898.2 421.7 897.8 419.7 896.6 418.2 894.6 416.6 892.6 415 891.9 412.7 890.5 410.7 889.4 408.6 888 407 887 405 885.3 403.7 884 402.2 882.3 401.2 880.5 400.5 879.5 398.2 878.9 395.7 879.5 393.6 880.9 391.8 881.3 389.6 881.3 389.6 883.5 389.3 884.9 387.5 886.9 386.8 889.4 385.7 891.8 384.4 893.4 383.4 895 382.2 896.6 381.2 898.9 380.4 901.4 380.4 903.7 378.9 906.3 378Z" fill="#064781" stroke="#064781" stroke-width=".7"/>
<path d="M424.2 455.8 423.5 453.4 422.8 451 422.8 448.5 421.6 446.2 421.7 443.7 421.4 441.5 421.3 439.2 421 436.9 421.1 434.6 420.1 432.5 419.4 430.6 419 428.5 417.7 426.8 418.9 425 420.1 423.2 420.9 421.2 421.6 418.8 423 416.9 425 415.4 425.8 413.1 427.5 411.5 428.8 409.6 429.4 407.2 431.3 405.7 432.2 403.5 434.2 401.8 434.9 399.1 437.4 397.7 438.6 395.4 439.8 393.3 441.3 391.7 443.9 391.1 445.4 389.4 446.2 386.9 448.3 385.8 449.7 383.9 451.6 382.6 453.4 381.2 454.5 379.1 456.1 377.5 458 376.1 459.6 374.1 461.9 372.9 463.6 371.1 465.6 369.6 467.6 368.1 468.5 366.1 469.8 364.5 470.8 362.6 472.2 361 472.2 361 474.6 361.8 477 362.9 479.5 363.8 481.9 365 483.5 366.8 485.8 367.6 487.6 369.2 489.9 369.8 491.2 372 493.3 373.5 494.7 375.5 497.1 376.1 499.5 376.7 502.1 376 504.4 377.1 506.9 377.4 509.4 377.1 511.8 377.9 511.8 377.9 513 379.9 513.5 382 513.7 384.2 513.6 386.5 513.9 388.7 515.1 390.6 516.7 392.1 517.6 394.1 518.5 396.2 519.9 397.8 519.9 397.8 518.7 400.1 518.8 402.7 518.3 405.1 516.7 406.6 514.9 407.8 512.7 408.3 510.7 408.8 509.6 410.6 507.9 411.5 507.8 414.2 506.3 416.4 504.7 418.8 502.2 420.4 500.5 421.7 498.2 422.1 496.6 423.6 495.8 426.8 495.8 426.8 493 426.2 490.2 426.8 487.7 427.9 485.3 429.2 484 431.2 484.2 433.7 482.9 435.7 481.9 438 482.1 440.5 480.5 442.1 478.9 443.7 476.8 445 474.6 446.3 472.5 447.7 470.5 448.4 468.6 449.5 466.5 449.8 464.4 450.2 462 450.9 459.6 451.7 457.2 452.6 455.5 454.6 453.9 456.6 452.6 458.5 452.6 461 451.5 463 451.1 465.2 451.2 467.5 450.8 469.7 450.7 471.9 450.7 471.9 448.4 470.9 446 470 443.5 469.5 441.3 469.1 439.1 468.7 437 467.9 435.2 466.2 432.5 466.2 430.6 464.7 429.1 462.6 427.7 460.5 426.6 458.2 424.2 455.8Z" fill="#06355f" stroke="#06355f" stroke-width=".7"/>
</g>
<g fill="none" stroke="#e6f2fd" stroke-width="1.25" stroke-linejoin="round" opacity=".85">
<path d="M531 285.3 531.4 287.5 531.2 289.8 530.9 292 531.8 294.2 530.2 295.7 529.9 297.9 528.5 299.5 527.7 301.4 528.2 303.6 528.9 305.8 529.7 307.9 529.4 310.3 530.5 312.1 531.8 313.8 533.1 315.5 535 316.7 536.7 318.4 538.9 319.7 540.6 321.5 540.3 323.8 541.7 325.7 541.7 328 541.8 330.2 543.3 332.1 543 334.4 545.1 335.9 547.1 337.6 546.9 339.8 545.5 341.6 544.3 343.4 541.8 343.8 540.6 345.7 541 348.4 539.7 351 539.8 353.7 538.2 355.6 538.1 358.2 536.6 360.2 535 359.1 533.3 358.1 531.8 356.9 529.7 357.9 527.5 358.8 525.3 359.4 522.4 359.3 519.7 360.2 518.3 362.1 517.3 364.2 515.3 364.7 513.4 365.4 511.6 366.6 510.9 368.5 510.8 370.6 511.1 373 511.3 375.5 511.8 377.9"/>
<path d="M511.8 377.9 509.4 377.1 506.9 377.4 504.4 377.1 502.1 376 499.5 376.7 497.1 376.1 494.7 375.5 493.3 373.5 491.2 372 489.9 369.8 487.6 369.2 485.8 367.6 483.5 366.8 481.9 365 479.5 363.8 477 362.9 474.6 361.8 472.2 361"/>
<path d="M607.4 306.2 606.3 308.1 604.8 309.7 604.2 311.9 602.4 313.3 601 315.1 599.7 317 599.8 319.5 598.6 321.5 598.3 323.9 598.6 326.4 598.1 328.7 596.9 330.5 595.5 332.4 594.6 334.4 592.8 335.6 592 337.7 590.5 339.2 589.8 341.2 589.6 343.2 590.2 345.3 589.7 347.3 590.7 349.9 589.7 352.7 590.5 355.3 589.6 357.7 589.4 360.3 588.1 362.6 588.9 364.3"/>
<path d="M588.9 364.3 586.6 365.2 584 364.7 581.7 365.8 579.1 366.1 576.9 367.4 574.9 368.8 572.5 369.7 571.2 372.2 568.8 373 566.7 374.2 565.7 376.3 563.8 377.7 562.4 379.5 559.8 380 557.3 381.1 554.6 380.9 552.7 382.3 551.3 384.2"/>
<path d="M551.3 384.2 549.1 385.5 546.5 385.8 544.4 385.5 542.2 385.9 540.1 385 538 385.8 536.4 387.1 535.2 389 533 389.4 531 387.8 528.8 388.2 526.7 389 524.3 389.2 522.4 390.6 522.2 393.2 520.4 395.3 519.9 397.8"/>
<path d="M511.8 377.9 513 379.9 513.5 382 513.7 384.2 513.6 386.5 513.9 388.7 515.1 390.6 516.7 392.1 517.6 394.1 518.5 396.2 519.9 397.8"/>
<path d="M519.9 397.8 518.7 400.1 518.8 402.7 518.3 405.1 516.7 406.6 514.9 407.8 512.7 408.3 510.7 408.8 509.6 410.6 507.9 411.5 507.8 414.2 506.3 416.4 504.7 418.8 502.2 420.4 500.5 421.7 498.2 422.1 496.6 423.6 495.8 426.8"/>
<path d="M495.8 426.8 493 426.2 490.2 426.8 487.7 427.9 485.3 429.2 484 431.2 484.2 433.7 482.9 435.7 481.9 438 482.1 440.5 480.5 442.1 478.9 443.7 476.8 445 474.6 446.3 472.5 447.7 470.5 448.4 468.6 449.5 466.5 449.8 464.4 450.2 462 450.9 459.6 451.7 457.2 452.6 455.5 454.6 453.9 456.6 452.6 458.5 452.6 461 451.5 463 451.1 465.2 451.2 467.5 450.8 469.7 450.7 471.9"/>
<path d="M450.7 471.9 448.4 470.9 446 470 443.5 469.5 441.3 469.1 439.1 468.7 437 467.9 435.2 466.2 432.5 466.2 430.6 464.7 429.1 462.6 427.7 460.5 426.6 458.2 424.2 455.8"/>
<path d="M551.3 384.2 551.4 386.9 551.5 389.6 552.1 392.2 551 394.2 551.1 396.7 549.7 398.6 549.5 401.1 550.5 403.4 550 405.9 550.5 408.3 551 410.4 552.2 412.4 552.1 414.7 551.5 416.8 551 419 551.3 421.2 551.4 423.7 552.1 426 552.7 428.4 553 430.8 552.6 433.2 553.1 435.7 552.7 438.1 552.1 440.5 552.2 442.9 552.7 445.3 552.6 447.8 553 450.2 553.2 452.7 551.5 454.9 551.8 457.4 551.3 459.8 551.6 462.2 552 464.6 552.3 467 552.1 469.5 552.2 472 552.3 474.5 553 477 554.4 478.6 554.5 480.7 555.4 482.5"/>
<path d="M495.8 426.8 495.6 428.9 496.6 430.8 497.4 432.8 498.5 434.7 499.6 436.7 499.8 438.9 500.3 440.9 499.9 443 501.3 444.8 501.4 446.9 501.6 449 502.3 450.9 502.2 453.1 503 455 504.9 456.2 507.1 456.6 509 458.3 511.1 459.8 511.8 462.3 512.7 464.7 514.5 465.4 515.7 467.1 517.5 467.9 519.7 468.5 521.9 469.3 524 470.3 525.7 471.5 527.3 472.8 528.8 474.3 529.3 477.4"/>
<path d="M450.7 471.9 452.8 473.1 454.7 474.6 456.2 475.9 458.1 476.6 459.6 477.8 461.3 479.5 462.9 481.2 463.6 483.5 465.6 483.5 467.4 484.3 469.2 485.1 471.1 486.9 473.3 488.3 473.5 490.2 474.9 491.5 476.7 492.5 478.8 492.7 480.5 493.9 482.5 496 484.5 498 486.1 499.3 486.4 501.3 487.7 502.8 488.7 504.8 489.4 506.9 489.4 509.2 489.4 511.2 488.9 513.3 489.7 515.3"/>
<path d="M502.2 528.2 502.2 525.6 502.3 523 503 520.5 502.8 518.4 502.2 516.3 502.2 514.1 503.4 512.1 503.6 509.7 504.7 507.6 506.1 505.8 507.5 504 509.5 502.8 511 501.5 511.4 499.5 512.7 498 514.2 496.7 516.2 496 517 493.7 519.1 493.1 521.1 492.8 522.7 491.3 524.8 491.5 526.6 489.6 528.8 488.3 529.7 486.3 529.6 484.1 529.6 481.9 528.7 479.7 529.3 477.4"/>
<path d="M529.3 477.4 531.6 477.5 533.6 476.2 535.9 477.5 538.5 477.8 539.8 479.5 541.7 480.3 544.1 479.8 546.5 479.4 548.8 480.6 551.3 481.1 553.3 482 555.4 482.5"/>
<path d="M555.4 482.5 557.5 481.6 559.8 482.1 561.7 483 562.8 485 564.6 486.1 566.3 484.4 568.6 483.7 570.2 482.9 571.9 482.1 574.1 482.6 576.2 482.1 578.3 481.3 580.9 481.5 583.1 482.9 585.7 482 588 480.5 590.7 479.5 593.6 479.7 596.8 479.2"/>
<path d="M596.8 479.2 598.4 480.8 599.2 482.9 598.5 485.3 598.9 487.7"/>
<path d="M652.4 511.1 654.2 510.4 655.6 509 657.2 507.9 659.2 506.7 660.4 504.7 662.8 505 665 505.6 666.9 507.1 669.2 508.1 671.7 507.9 673.8 507.1 675.8 506 678.1 505.5 680.4 505.1 682.2 503.4 684.6 503 686.7 503.6 688.9 503.4 691 503"/>
<path d="M596.8 479.2 596.9 476.9 596.2 474.7 596 472.5 595.3 470.5 595.9 468.4 595.5 466.4 596 464.4 596.2 462 596.8 459.6 597.3 457.2 596.8 454.7 597.5 452.9 599.5 451.9 600 449.9 601.7 448.7 603.7 448.1 605.7 447.5 607.8 446.6 610 445.9 612.1 445.1 612.4 442.5 613.7 440.3 613.5 438.2 613.6 436.1 612.9 434.1 612.1 432.2 612.1 430 610.2 428.4 610 426.3 609.7 424.2 610.2 422.2 609.4 420.1 609.6 418.1 610.5 416.1 612.9 413.7"/>
<path d="M612.9 413.7 615.5 413.8 617.9 413.1 620.2 412.1 622.3 411.4 624.6 412.3 626.6 411.3 628.6 410.4 630.7 410.9 632.7 411.3 634.7 410.5 637.3 409.8 640.1 410.7 642.7 409.7 644.8 408.5 646.8 407.2 649.1 406.4 651.6 405.6 653 407.2 653.2 409.4 654 411.3 654.9 413.3 655.8 415.4 655.6 417.7 657 419.5 657.2 421.7 659.4 422.1 661.5 421.2 663.6 420.9 665.7 420 667.9 420.4 670.1 420.1 671.6 418.4 673.8 418"/>
<path d="M673.8 418 675 420 675.1 422.3 676.5 424.2 677.5 426.1 676.9 428.3 677.2 430.3 678.1 432.2 678.8 435 678.9 437.8 680.5 439 681.7 440.7 683.2 442.1 684.6 443.5 687 445.8"/>
<path d="M687 445.8 686.1 448 684 449.4 683 451.5 682.7 453.7 681.4 455.7 681.3 458 682.1 460.3 683.8 462.1 684.6 464.4 684.8 466.8 685.7 468.8 687 470.8 688.6 472.2 690 473.8 691 475.7 692 477.8 693.4 479.8 694.2 482.1 693 484.4 692.6 486.9 691.5 489 689.4 490.2 687.7 491.8 687.1 494 685.8 495.8"/>
<path d="M685.8 495.8 686.8 498.1 688.6 499.8 689.3 501.8 691 503"/>
<path d="M670.1 315.7 670 318 668.7 319.9 668.9 322.2 667.7 324.2 668 326.3 669.7 327.7 670.1 329.8 671.7 331.2 672.8 333 674.1 334.6 674.5 337.1 675.8 339.3 675.7 341.9 675.7 344.1 676.1 346.2 676.5 348.3 676.7 350.5 677.4 352.6 678.1 354.7 676.8 356.8 676.3 359.2 674.9 361.2 674.3 363.3 673.7 365.4 673.3 367.6 673.6 369.8 673.2 372 674.1 374.1 675.6 376.1 678.1 376.9 679.7 378.9 681.5 381 682.1 383.7 682 385.7 682.4 387.8 680.8 389.7 681.3 391.8 681.8 393.9 682 396 682.1 398.2 682.2 400.4 683.3 402.5 683 404.7 681.4 406.4 679.9 408.1 678.1 409.5 675.9 410.8 674.1 412.7 674.6 415.4 673.8 418"/>
<path d="M588.9 364.3 589.1 366.7 590.2 368.7 591.2 370.8 591 373.1 591.7 375.3 592.8 377.3 594.7 377.9 596.1 379.3 597.6 380.5 599 382.3 600.8 383.7 601.8 385.4 603.4 386.7 604.1 388.6 604 390.8 605 392.8 604.9 395 603.4 397.3 602.5 399.8 602.7 402.4 601.6 404.7 602.7 406.5 603.9 408.3 605.7 409.5 607.3 411.1 608.9 412.7 611 412.7 612.9 413.7"/>
<path d="M715.7 322.8 715.2 325.1 714.9 327.5 713.6 329.6 713.3 331.8 714.6 333.8 714.4 336 716 337.6 718.1 338.7 719.2 340.8 720 343.1 721.7 345 722.5 347.3 723.6 349.1 725.1 350.8 725.7 352.9 728.4 352.4 731.1 352.7 733.7 353.7 735.5 355.9 737.7 357.7 738.6 359.6 739.2 361.6 740.2 363.4 742.1 364.8 744.4 365.7 746.6 366.6 748.9 366.4 750.9 367.4 753 368.2 755.4 367.3 757.9 366.6 759.1 364.8 761.5 364.4 762.7 362.6 765.9 363.4 767 365 768.3 366.4 769.1 368.2 770.1 370.4 771.1 372.6 772.4 374.7 772.9 377.3 774 379.7 774.5 382.3"/>
<path d="M774.5 382.3 776.3 381.2 777.5 379.5 778.8 377.9 780.7 377.6 782 376.3 783.9 375.2 786 375.1 788 374.9 790.1 374.7 792.5 375.4 794.9 375.6 797.2 376 799.7 375.5 802 374 804.6 373 806.5 372.2 807.8 370.6 809.6 368.9 810.9 366.7"/>
<path d="M822.2 256.9 821.5 258.8 820.4 260.6 819.8 262.5 819.6 265 819 267.4 820.4 269.5 822.2 271.4 823 273.4 824.7 274.6 822.5 276.4 820.6 278.6 819.1 280.1 818.1 282 816.6 283.5 815.4 285.5 813.4 286.7 812.8 289.4 811 291.5 811.8 293.9 811.8 296.4 812 298.6 812.9 300.7 813.4 302.8 814.8 305 815 307.6 814.2 309.4 812.5 310.6 811.8 312.5 810.3 314.7 809.4 317.3 809.6 319.7 810.2 322.1 809.4 324.4 808.6 326.8 806.9 328.6 806.3 330.7 806.2 332.8 806.1 335 807.8 336.2 808.6 338 809.4 339.8 810.6 341.3 812 342.7 812.6 344.7 812.6 346.9 812.5 349 813.4 351.1 815 353.7 814.2 355.9 813.8 358.2 812.6 360.2 812 362.3 811.2 364.5 810.9 366.7"/>
<path d="M906.3 378 903.7 378.9 901.4 380.4 898.9 380.4 896.6 381.2 895 382.2 893.4 383.4 891.8 384.4 889.4 385.7 886.9 386.8 884.9 387.5 883.5 389.3 881.3 389.6"/>
<path d="M881.3 389.6 878.5 389.4 875.7 389.2 873.3 390.3 870.8 390.8 868.5 390.1 866.8 388.4 866 386.2 864.4 384.4 862.4 383.2 860.9 381.5 859.6 379.6 858.4 377.5 857.1 375.5 856.4 373.1 854.7 371.9 854.6 369.6 853.1 368.3 850.5 367.7 847.7 368.4 845.1 367.5 842.9 367.3 840.7 367.8 838.6 368.3 836.3 369.3 833.8 369.9 831.7 369.1 829.7 368.3 827.4 368.3 825.2 368.3 823 368.3 820.9 367.5 818.5 367.1 816.1 366.7 813.5 366.6 810.9 366.7"/>
<path d="M881.3 389.6 880.9 391.8 879.5 393.6 878.9 395.7 879.5 398.2 880.5 400.5 882.3 401.2 884 402.2 885.3 403.7 887 405 888 407 889.4 408.6 890.5 410.7 891.9 412.7 892.6 415 894.6 416.6 896.6 418.2 897.8 419.7 898.2 421.7 899.8 423 899.9 425.1 900.6 427.1 898.1 428.6 896.6 431.1 895 433.3 894.2 435.9 894.9 436.1 892.3 436.4 890.1 438 887.6 438.5 885.7 439.5 883.6 440.1 883.6 442.8 884.4 445.4"/>
<path d="M997.9 405.5 996.7 407.2 995.9 409.1 995.8 411.2 995.5 413.4 996.3 415.5 996.6 417.6 995.9 419.5 994.6 420.9 993.4 422.5 992.6 425.1 991 427.3 992 429.3 992.2 431.5 991.8 433.7 992.7 435.8 993 438 992.6 440.2 993.1 443 993.9 445.8"/>
<path d="M993.9 445.8 995.2 447.8 996.6 449.8 997.6 451.9 998 454 998.2 456.3 998.3 458.8 997.4 461.1 998.9 463.6 1001.4 465.1 1003 465.3 1003.5 467.5 1005.8 468.7 1006.3 470.9 1007.3 473 1007.4 475.2 1007.1 477.4 1006.4 479.8 1006.3 482.2 1007.9 484.3 1010 486.1 1011.1 488.6 1012.6 489.9 1012.7 492.2 1014.3 493.5 1014.4 496 1013.5 498.3 1015.5 498.4 1017.2 499.6 1019.1 499.9 1020.8 501.4 1022 503.5 1024 504.7 1025.5 506 1026 508 1027.2 509.6 1028.2 511.1 1028.8 512.8 1031.1 512.7 1033.2 513.5 1035.2 514.4 1036.6 516.6 1036.9 519.2 1036.5 520.5"/>
<path d="M993.9 445.8 991.3 444.8 988.6 444.2 986.4 444.4 984.2 444.2 982.1 445 980.2 445.6 979.1 447.4 977.3 448.2 977.1 450.8 975.7 453 974.5 454.7 972.1 454.8 970.8 456.3 970 458.7 969.2 461.1 967.5 463.1 965.2 464.3 964.7 466.4 963.6 468.3 961.9 467.8 960.1 467.5 957.9 467.1 955.8 468.3 953.6 468.3 951.7 468.9 950 470 948 469.9 947.8 472 947.3 474.1 947 476.2 947.5 478.3"/>
<path d="M884.4 445.4 886.5 446.2 888.7 445.9 890.8 446.6 892.3 448.1 894.3 449 895.7 450.6 897.2 452.1 898.8 453.4 900.5 454.6 902.8 455.4 904.9 456.5 906.9 457.8 909.1 457.5 911.2 458.3 913.4 458.6 916.3 458.9 919 457.8 920.9 459 921.5 461.2 923 462.7 923.7 464.8 925.8 466.1 926.3 468.3 927 470.2 927.9 471.8 929.5 473.1 930.8 474.9 931.6 476.9 932.7 478.8 934.1 480.3 935.1 482 937 480.4 938 478 939.9 476.4 942.4 477 945.1 477.1 947.5 478.3"/>
<path d="M947.5 478.3 949 480.3 951 481.9 952.8 483.6 953.1 486.1 952.6 488.4 952 490.8 953.3 492.9 954.7 494.8 955.2 497.3 955.2 500 955.2 502.7 954.4 505.3 952.7 506.6 950.3 506.9 948.8 508.6 946.6 510.1 944 510.2 943.7 512.3 943.6 514.5 943.2 516.6 943.6 518.8 942.2 520.8 942.4 523"/>
<path d="M942.4 523 940 523 937.4 523.9 934.8 524.4 932.1 524.2 929.8 523 927.3 522.6 924.9 521.7 922.5 521 922.7 518.8 923.3 516.6 923 514.1 922.5 511.7 921 510.1 919.2 508.9 916.4 509.2 913.6 509.7 911.2 508.3 909.2 506.5 906.8 506.9 905.4 509.1 903.1 509.7 900.6 509.3 898.3 508.1 896.2 506.5 893.5 506.1 891.3 506.1 889.2 506.8 887 506.5 884.4 507 882.2 508.5 880.4 507.1 878.2 506.5 877.9 509.3 876.6 511.7 877.5 515 876.6 517 875.8 519 876.5 520.8 877.7 522.4 879 523.8 880.3 526.1 881 528.6 880.7 531.1 880.2 533.5 880.1 536.1 881.4 538.3 879.8 540.7 876.8 540.8 874.2 539.5 872.2 538.4 869.9 538.7 867.7 538.3 865.2 538.6 862.8 539.4 860.5 540.3 858.3 540.9 856.2 541.7 854 542.3 853.7 542.5"/>
<path d="M884.4 445.4 881.2 444.2 879.8 445.8 878.3 447.2 876.4 448.2 873.7 448.4 871.5 449.8 869.1 450.5 866.7 451.4 864.8 452.7 862.5 453.2 860.3 453.8 859.6 456.5 857.8 458.6 857.2 460.7 857.3 462.9 857 465.1 856 467.4 856.2 469.9 854.1 470.1 852.6 468.4 850.6 468.3 848.7 466.9 846.2 467.1 844.2 465.9 842.5 464.8 840.5 464.3"/>
<path d="M840.5 464.3 839.4 466.2 837.7 467.5 834.9 468 832.1 468.3 829.7 470.7 831.3 472.6 833.7 473.6 835.3 475.5 832.9 476.7 831.3 478.8 830 480.4 827.7 480.3 826.4 482 826.2 484 824.7 485.6 824.8 487.6 825.5 489.6 825.8 491.7 826.4 493.7 827.2 495.7 827.3 497.9 826.8 500 826.4 502.1 824.1 503.5 821.6 504.5 820 505.7 818.3 506.6 816.2 506.7 814.4 507.5 812.7 508.4 811.3 509.9 808.9 510.5 807.3 512.3"/>
<path d="M687 445.8 687.7 443.9 688.9 442.3 689.7 440.4 691.9 440.2 694 439.5 696.1 438.8 698.5 439.1 700.9 439.6 702.8 438.2 705.2 437.9 707.4 437.2 709.5 436.7 711.7 437.3 713.8 436.4 715.9 436.9 717.9 436.1 719.8 435.3 721.9 435.5 724.1 435.2 726.2 434.5 728.3 433.9 729.7 432.4 731.5 431.3 733.1 429.9 733.5 427.6 735.1 425.8 735.5 423.5 736.6 421.5 736.6 419 738 417 738.1 414.8 739.3 412.8 739.6 410.6 740.5 408.1 742 405.8 743.5 403.9 744.4 401.7 746 399.3 746.2 401.9 747.6 404.2 748.9 405.8 750.8 406.6 753.3 406.4 755.7 405.8 757.4 404.9 759 403.7 760.5 402.5 762.3 400.7 764.5 399.3 765.7 396.9 766.9 394.5 767.1 392.1 767.7 389.7 770 388.3 771.8 386.4 772.8 384.1 774.5 382.3"/>
<path d="M774.5 382.3 774.5 382.3"/>
<path d="M774.5 382.3 775.6 384.1 775.7 386.3 777.3 387.8 778.2 389.7 779.5 391.7 780.2 394 781.4 396.1 782.7 397.5 783.3 399.5 784.7 400.9 785.5 403.2 786.9 405.2 787.9 407.4 788.3 409.8 790.4 411.5 791.1 413.8 792.9 415.2 793.9 417.4 795.9 418.6 796.7 421.3 798.3 423.5 797.2 425.8 796.7 428.3 796.5 430.7 795.9 433.1 793.6 434 791.1 433.9 789.1 435.1 787.1 436.4 788.3 438 789.5 439.6 791.8 439.6 793.8 440.6 795.9 441.2 797.6 442.2 799.1 443.6 801.6 444.4"/>
<path d="M801.6 444.4 803.6 443.7 805.6 442.8 808.2 443.1 810.4 444.4 812.2 445.5 813.3 447.4 815.2 448.4 816.9 449.1 817.7 450.8 818.7 453.2 818.5 455.7 820.5 456.9 821.7 458.9 823.8 458.7 826 458.3 828.1 458.9 830.3 459.2 832.3 460.1 834.6 459.7 836.7 461.6 839.4 462.1 840.5 464.3"/>
<path d="M801.6 444.4 801 446.5 801.4 448.7 800.8 450.8 800.7 453.3 799.9 455.7 797.9 455.9 796.2 456.8 794.3 457.3 792 458.4 789.5 458.9 788.4 457.2 787.1 455.7 784.9 454.2 783 452.5 781 453.7 779 454.9 777.5 457 775.8 458.9 773.8 459 772 459.8 770.2 460.5 767.8 459.5 765.3 458.9 763.2 459.7 761 459.7 758.9 460.5 756.5 461.2 754.1 462.1 753.4 464.1 752.5 466.1 750.1 467.4 747.6 468.6 745.6 469.6 743.3 469.5 741.2 470.2 739.2 470.2 737.1 470.4 735.2 469 733.1 469.4 730.4 469.3 727.7 469.8 725.1 470.2 722.8 470.2 720.9 471.8 718.6 471.8 716.6 473 715.4 475 715.4 477.5 714.6 479.8 712.4 480.2 711 482.1 709 483 706.7 483.1 704.7 484.1 702.5 484.7 700.4 485.4 698.1 485.3 696.1 486.3 694 487.4 692.5 489.1 691.3 491.1 689.5 493.3 687.2 495.1 685.8 495.8"/>
<path d="M691 503 693 503.7 694.6 505.1 696.8 505.9 699 506.4 701.1 507.5 703.5 507.3 705.9 507"/>
<path d="M705.9 507 708.6 506.1 711.5 505.9 713.8 505.8 715.9 505 718 504.3 720.2 504.7 722.3 504.3 724.4 503.5 726.5 502.9 728.8 503.1 730.8 501.9 733.2 501.1 735.7 501.1 737 502.6 739.1 502.9 740.5 504.3 742.2 505.8 743.7 507.5 745.8 508.4 748 508.1 750.2 508.3 752.8 509.1 755.5 509.2 758.2 509.1 759.4 511.4 761.4 513.1 761.5 515.8 763 518 764.4 519.8 764.7 522 766.7 522.9 768.9 523.5 771.1 523.6 773.5 524 775.9 524.4 778.1 524.4 780.2 524.6 782.4 524.4 784.6 524.5 786.7 523.9 788.8 523.6 791 522.2 793.6 522 794.3 520 795.2 518 796.6 516.1 798.5 514.7 800.6 514.2 802.7 513.5 804.9 513.1 807.3 512.3"/>
<path d="M807.3 512.3 807.2 514.4 808.3 516.1 808.9 518 809 520.2 807.9 522.2 808.1 524.4 807.9 527 806.5 529.2 807.6 531.7 808.9 534.1 810.8 536.3 813 538.1"/>
<path d="M705.9 507 704.3 508.5 702.7 509.9 703.1 512.1 702.5 514.3 703.5 516.4 704.3 518.7 705.1 520.9 706.7 522.8 706.6 525.1 707.8 527.1 708.3 529.2 710 530.7 711.7 532.3 713.1 534.1 715.2 534.3 717.2 534.8 719.3 534.9 721.2 535.7 723.2 536.9 724.4 538.9 724.8 541.4 726 543.7 725.8 545.9 726.7 548 726.8 550.2 727.6 552.3 729.5 553.3 730.8 555 733.4 555.3 735.7 556.6 737.6 557.2 738.7 559 740.5 559.8 741.9 562 742.1 564.7 740.5 565.9 739.5 567.6 738.9 569.5 737 571.1 734.6 571.6 732.5 572.7 731 574.9 730.8 577.5 730.9 574.9 732.4 572.7 732.7 576.1 734.4 577.3 735.3 579 735.9 580.9 736.9 583.5 738.3 585.8 738.6 587.6 738.8 589.5"/>
<path d="M813 538.1 812.7 540 811.9 541.9 811.3 543.7 811.4 546 809.9 547.9 809.7 550.2 810.2 552.2 811.9 553.4 813 555 812.4 557.7 810.5 559.8 808.6 560.9 806.8 562 804.9 563 805.3 565.2 805.5 567.5 806.5 569.5 807.9 571.3 809.7 572.7 808.3 574.5 806.6 576 804.9 577.5 802.6 576.3 800 576.1 797.9 576.3 796.1 577.8 793.9 577.7 791.8 578.4 789.5 578 787.4 578.5 785.4 579.4 783 578.9 781 580.1 779.1 581.9 776.4 582.4 774.6 584.2 773.5 586.6 771.3 588.2 769.7 589.8"/>
<path d="M813 538.1 815.2 537.9 817.3 538.1 819.4 538.9 821.7 539 823.5 537.3 825.8 537.3 828.2 537.6 830.3 538.4 832.3 539.7 834.6 540.4 837.1 540.5 839.6 540.7 841.6 542.4 844.1 542.5 846.3 542.5 848.4 542.4 850.5 541.7 853.7 542.5"/>
<path d="M853.7 542.5 854.5 544.6 854.2 547 855.3 549 856 551.6 857.7 553.8 859.5 552.7 861.6 552.4 863.4 551.4 863.4 553.9 864.2 556.3 865 558.6 865.4 560.6 865.6 562.7 866.5 564.6 866.6 566.7 868.3 568.2 869.9 569.8 871.4 571.5 873 572.8 873.1 575.1 874.7 576.4 873.8 578.4 874 580.8 873 582.8 871.4 584.9 869 586 870.5 587.5 871.6 589.2 873 590.8 874.3 593.1 874.7 595.7 876.7 596.8 879 597.3 881.1 598.1 883 599.4 885.1 600.5 885.5 602.6 885.2 604.8 885.9 606.9 885.1 610.2"/>
<path d="M832 614.5 834.4 613.7 836 611.8 837.7 612.7 838.8 614.5 840.8 615 842.4 616.2 843.7 617.8 845.7 618.2 848.3 618.4 850.5 619.8 852.3 620.6 853.9 621.7 855.3 623 855.4 620.6 857 618.8 857.7 616.6 860.2 615 860.7 617.4 862.4 619.2 863.4 621.4 864.7 619.5 866.2 617.8 868.2 616.6 870.6 616.9 873 616.6"/>
<path d="M828.3 687.7 833.1 692.6 836.4 698.2 840.4 704.7 842 710.3" stroke-width=".7"/>
<path d="M942.4 523 943.9 524.7 944.2 526.9 945.1 528.9 946.2 530.5 946.8 532.4 948.3 533.7 950 534.8 951.3 536.5 953 537.5 954.7 538.6 957 539.4 958.9 541 961.2 541.8 962.7 543.4 965.3 543.3 966.8 545 965.9 547.1 965 549.2 964.4 551.4 962.4 552 961.5 554 959.6 554.7 958.1 556.5 956.4 557.9 954.7 559.5 955.9 561 957.4 562.4 958 564.3 957.7 564.6 959 566 960.4 567.5 961 569.4 960.7 572.2 961.8 574.8"/>
<ellipse cx="721.2" cy="307.3" rx="2.1" ry="1.2" stroke-width=".8"/>
<path d="M703.3 372.5L708.7 373.4L712.3 377.9L715.9 381.9L717.2 378.8L720.4 377L724 375.2L724.9 373.8"/>
</g>
<g font-family="Liberation Sans, sans-serif" font-weight="bold" fill="#fff" text-anchor="middle">
<text x="497.5" y="326" font-size="10" textLength="54" lengthAdjust="spacingAndGlyphs">Волинська</text>
<text transform="translate(498.4 345.7) scale(.86 1)" font-size="14.6" textLength="32.9" lengthAdjust="spacing">6428</text>
<text x="563" y="312.2" font-size="10" textLength="56.6" lengthAdjust="spacingAndGlyphs">Рівненська</text>
<text transform="translate(571 332) scale(.86 1)" font-size="14.6" textLength="74.4" lengthAdjust="spacing">10,64 ТИС.</text>
<text x="632.2" y="354.7" font-size="10" textLength="70" lengthAdjust="spacingAndGlyphs">Житомирська</text>
<text transform="translate(631.8 375.7) scale(.86 1)" font-size="14.6" textLength="32.9" lengthAdjust="spacing">4470</text>
<text x="765.6" y="312" font-size="10" textLength="63" lengthAdjust="spacingAndGlyphs">Чернігівська</text>
<text transform="translate(766 331.8) scale(.86 1)" font-size="14.6" textLength="33.7" lengthAdjust="spacing">2846</text>
<text x="841.6" y="335.8" font-size="10" textLength="43" lengthAdjust="spacingAndGlyphs">Сумська</text>
<text transform="translate(841.6 355.1) scale(.86 1)" font-size="14.6" textLength="34.3" lengthAdjust="spacing">2553</text>
<text x="706.7" y="410.9" font-size="10" textLength="43" lengthAdjust="spacingAndGlyphs">Київська</text>
<text transform="translate(707 430.7) scale(.86 1)" font-size="14.6" textLength="32.9" lengthAdjust="spacing">7079</text>
<text x="460.8" y="406.7" font-size="10" textLength="50" lengthAdjust="spacingAndGlyphs">Львівська</text>
<text transform="translate(461.6 429.2) scale(.86 1)" font-size="14.6" textLength="72.1" lengthAdjust="spacing">17,24 ТИС.</text>
<text x="524.8" y="428.5" font-size="10" textLength="37" lengthAdjust="spacingAndGlyphs">Терноп.</text>
<text transform="translate(524.4 450.2) scale(.86 1)" font-size="14.6" textLength="32.9" lengthAdjust="spacing">9624</text>
<text x="575.7" y="411.4" font-size="10" textLength="40" lengthAdjust="spacingAndGlyphs">Хмельн.</text>
<text transform="translate(576 431.4) scale(.86 1)" font-size="14.6" textLength="33.7" lengthAdjust="spacing">4058</text>
<text x="834.5" y="406.7" font-size="10" textLength="60" lengthAdjust="spacingAndGlyphs">Полтавська</text>
<text transform="translate(835.4 425.9) scale(.86 1)" font-size="14.6" textLength="32.9" lengthAdjust="spacing">1253</text>
<text x="938.2" y="416.8" font-size="10" textLength="55.5" lengthAdjust="spacingAndGlyphs">Харківська</text>
<text transform="translate(938.6 436.9) scale(.86 1)" font-size="14.6" textLength="57.0" lengthAdjust="spacing">13,16 Т...</text>
<text x="1030.3" y="440.2" font-size="10" textLength="51" lengthAdjust="spacingAndGlyphs">Луганська</text>
<text transform="translate(1030.8 461.1) scale(.86 1)" font-size="14.6" textLength="25.2" lengthAdjust="spacing">620</text>
<text x="734.9" y="446.8" font-size="10" textLength="52" lengthAdjust="spacingAndGlyphs">Черкаська</text>
<text transform="translate(734.6 466.9) scale(.86 1)" font-size="14.6" textLength="33.3" lengthAdjust="spacing">2688</text>
<text x="642.7" y="458.3" font-size="10" textLength="51" lengthAdjust="spacingAndGlyphs">Вінницька</text>
<text transform="translate(642.8 478.9) scale(.86 1)" font-size="14.6" textLength="33.4" lengthAdjust="spacing">4887</text>
<text x="483.4" y="468.2" font-size="10" textLength="48" lengthAdjust="spacingAndGlyphs">Ів.-Франк.</text>
<text transform="translate(485.3 488.3) scale(.86 1)" font-size="14.6" textLength="58.1" lengthAdjust="spacing">11,51 Т...</text>
<text x="431.8" y="483.1" font-size="10" textLength="49" lengthAdjust="spacingAndGlyphs">Закарпат.</text>
<text transform="translate(431.6 502) scale(.86 1)" font-size="14.6" textLength="34.3" lengthAdjust="spacing">8756</text>
<text x="533.8" y="490.2" font-size="10" textLength="35" lengthAdjust="spacingAndGlyphs">Чернів.</text>
<text transform="translate(533.2 510.8) scale(.86 1)" font-size="14.6" textLength="41.9" lengthAdjust="spacing">12,39...</text>
<text x="779.8" y="484.7" font-size="10" textLength="78" lengthAdjust="spacingAndGlyphs">Кіровоградська</text>
<text transform="translate(780 505.1) scale(.86 1)" font-size="14.6" textLength="24.4" lengthAdjust="spacing">929</text>
<text x="884.2" y="483.4" font-size="10" textLength="94" lengthAdjust="spacingAndGlyphs">Дніпропетровська</text>
<text transform="translate(884.1 502.9) scale(.86 1)" font-size="14.6" textLength="33.1" lengthAdjust="spacing">3430</text>
<text x="984.9" y="506.4" font-size="10" textLength="50" lengthAdjust="spacingAndGlyphs">Донецька</text>
<text transform="translate(985.5 525.7) scale(.86 1)" font-size="14.6" textLength="34.9" lengthAdjust="spacing">2154</text>
<text x="766.7" y="545" font-size="10" textLength="70" lengthAdjust="spacingAndGlyphs">Миколаївська</text>
<text transform="translate(767.1 563.8) scale(.86 1)" font-size="14.6" textLength="33.7" lengthAdjust="spacing">2114</text>
<text x="908.3" y="553" font-size="10" textLength="55" lengthAdjust="spacingAndGlyphs">Запорізька</text>
<text transform="translate(908.1 572.3) scale(.86 1)" font-size="14.6" textLength="34.7" lengthAdjust="spacing">2503</text>
<text x="704.1" y="556.6" font-size="10" textLength="43" lengthAdjust="spacingAndGlyphs">Одеська</text>
<text transform="translate(704.5 576.9) scale(.86 1)" font-size="14.6" textLength="33.7" lengthAdjust="spacing">9993</text>
<text x="834" y="586.8" font-size="10" textLength="60" lengthAdjust="spacingAndGlyphs">Херсонська</text>
<text transform="translate(834.2 606.1) scale(.86 1)" font-size="14.6" textLength="23.8" lengthAdjust="spacing">661</text>
<rect x="689" y="361" width="45.3" height="10.7" fill="#0b3560"/>
<text x="711.8" y="370.2" font-size="10" textLength="21.6" lengthAdjust="spacingAndGlyphs">Київ</text>
<text transform="translate(712.5 393) scale(.86 1)" font-size="14.6" textLength="36" lengthAdjust="spacing">17,7...</text>
</g>
<!--/REGIONS-->
<use href="#cgzlogo" transform="translate(425.6 624)"/>
<path d="M453.5 609V638.4" stroke="#3d5a94" stroke-width="1"/>
<g font-family="Liberation Sans, sans-serif" font-weight="bold" font-size="8.4" fill="#2a4b8d" stroke="#2a4b8d" stroke-width=".25">
<text x="459.7" y="617.2" textLength="19" lengthAdjust="spacingAndGlyphs">ЦЕНТР</text>
<text x="459.7" y="626.5" textLength="56.8" lengthAdjust="spacingAndGlyphs">ГРОМАДСЬКОГО</text>
<text x="459.7" y="635.7" textLength="34" lengthAdjust="spacingAndGlyphs">ЗДОРОВ'Я</text>
</g>
</svg>
</div>

<div id="right">
<div class="abs rtitle" style="left:0;top:14px;width:208px;text-align:center">РОЗГОРНУТА ІНФОРМАЦІЯ</div>
<div class="abs rbox" style="top:44px;border-color:#1b3a6b"><div class="rt">Переглянути дані за добу в<br>розрізі областей</div>
<svg class="abs" style="left:135.5px;top:33.5px" width="40" height="32" viewBox="1268 291 40 32" fill="none" stroke="#222" stroke-width="1.3">
<rect x="1269.6" y="293.4" width="35.6" height="27.4"/>
<path d="M1269.6 298.4H1305.2M1269.6 304H1305.2M1269.6 309.6H1305.2M1269.6 315.2H1305.2M1278.3 298.4V320.8M1287 298.4V320.8M1296 298.4V320.8"/>
<path d="M1284 295.9H1298.6" stroke-width="1.6"/><path d="M1300.8 295.9H1303" stroke-width="1.6"/>
</svg></div>
<div class="abs rbox" style="top:126px"><div class="rt">Статистика подобова<br>загальна</div>
<svg class="abs" style="left:134px;top:23px" width="44" height="38" viewBox="1266 362 44 38" fill="#fff" stroke="#3c3c3c" stroke-width="1.3">
<path d="M1271.9 377.8L1282.6 369.2L1293.4 374.2L1303.8 365.3" stroke-width="3.4"/><path d="M1271.9 377.8L1282.6 369.2L1293.4 374.2L1303.8 365.3" stroke="#fff" stroke-width="1.2"/>
<rect x="1269.2" y="385" width="6" height="13" rx="1"/><rect x="1279.9" y="377.5" width="6" height="20.5" rx="1"/><rect x="1290.4" y="382" width="6" height="16" rx="1"/><rect x="1301.1" y="373.5" width="6" height="24.5" rx="1"/>
<circle cx="1271.9" cy="377.8" r="2.9"/><circle cx="1282.6" cy="369.2" r="2.9"/><circle cx="1293.4" cy="374.2" r="2.9"/><circle cx="1303.8" cy="365.3" r="2.9"/>
</svg></div>
<div class="abs rbox" style="top:208px"><div class="rt">Статистика подобова нових<br>випадків</div>
<svg class="abs" style="left:134px;top:23px" width="44" height="38" viewBox="1266 362 44 38" fill="#fff" stroke="#3c3c3c" stroke-width="1.3">
<path d="M1271.9 377.8L1282.6 369.2L1293.4 374.2L1303.8 365.3" stroke-width="3.4"/><path d="M1271.9 377.8L1282.6 369.2L1293.4 374.2L1303.8 365.3" stroke="#fff" stroke-width="1.2"/>
<rect x="1269.2" y="385" width="6" height="13" rx="1"/><rect x="1279.9" y="377.5" width="6" height="20.5" rx="1"/><rect x="1290.4" y="382" width="6" height="16" rx="1"/><rect x="1301.1" y="373.5" width="6" height="24.5" rx="1"/>
<circle cx="1271.9" cy="377.8" r="2.9"/><circle cx="1282.6" cy="369.2" r="2.9"/><circle cx="1293.4" cy="374.2" r="2.9"/><circle cx="1303.8" cy="365.3" r="2.9"/>
</svg></div>
<div class="abs" style="left:0;top:322px;width:203px;text-align:center;font-size:13.8px;line-height:18px;color:#333">ДАНІ СТАНОМ НА</div>
<div class="abs" style="left:0;top:343px;width:203px;text-align:center;font-size:20px;line-height:24px;color:#222"><span style="display:inline-block;transform:scaleX(.85);letter-spacing:1.7px">15.09.2020</span></div>
<div class="abs" style="left:12px;top:384px;font-size:12.5px;line-height:16px;font-weight:bold;color:#222">ПРИМІТКА</div>
<div class="abs" style="left:12px;top:402px;font-size:12.8px;line-height:17.1px;font-style:italic;color:#333;white-space:nowrap">Дані з АР Крим та території<br>ОРДЛО відсутні у зв'язку з<br>тимчасовою окупацією</div>
<svg class="abs" style="left:0;top:484px" width="208" height="50" viewBox="1124 695 208 50">
<use href="#cgzlogo" transform="translate(1151.3 717.3)"/>
<path d="M1179 703.3V732.2" stroke="#3d5a94" stroke-width="1"/>
<g font-family="Liberation Sans, sans-serif" font-weight="bold" font-size="8.4" fill="#2a4b8d" stroke="#2a4b8d" stroke-width=".25">
<text x="1185.7" y="710.8" textLength="19" lengthAdjust="spacingAndGlyphs">ЦЕНТР</text>
<text x="1185.7" y="720.1" textLength="56.5" lengthAdjust="spacingAndGlyphs">ГРОМАДСЬКОГО</text>
<text x="1185.7" y="729.6" textLength="34" lengthAdjust="spacingAndGlyphs">ЗДОРОВ'Я</text>
</g>
<text x="1254.6" y="724.4" font-family="Liberation Sans, sans-serif" font-size="20.5" fill="#1cabe2" stroke="#1cabe2" stroke-width=".45" textLength="52.5" lengthAdjust="spacingAndGlyphs">unicef</text>
<circle cx="1318.6" cy="716.9" r="9.4" fill="#1cabe2"/>
<g fill="none" stroke="#fff" stroke-width=".7" opacity=".8"><ellipse cx="1318.6" cy="716.9" rx="4.2" ry="9"/><path d="M1309.5 716.9H1327.7M1311 712H1326.2M1311 721.8H1326.2"/></g>
<ellipse cx="1318.6" cy="716.4" rx="3.2" ry="4.6" fill="#fff" opacity=".75"/>
</svg>
</div>

</body>
</html>
